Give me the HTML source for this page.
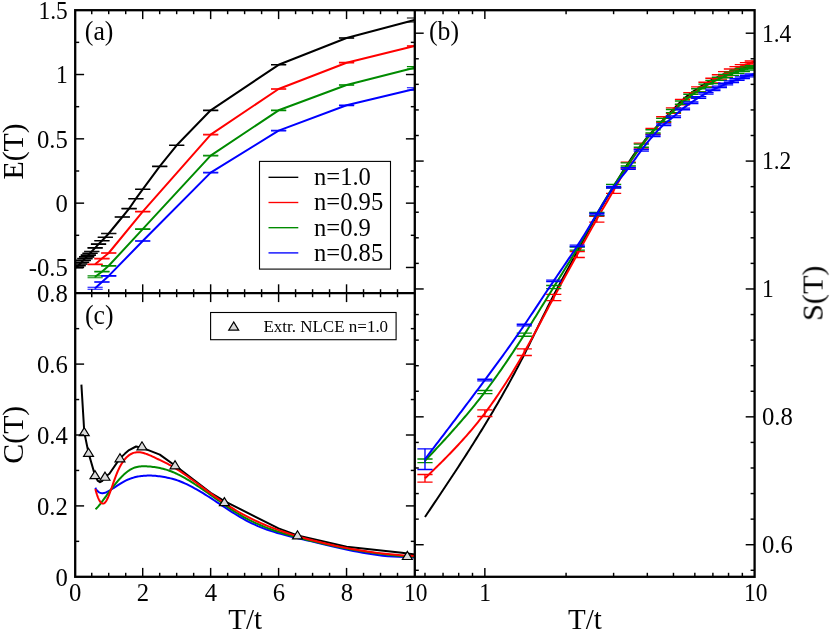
<!DOCTYPE html>
<html><head><meta charset="utf-8"><title>Figure</title>
<style>
html,body{margin:0;padding:0;background:#fff;}
svg{display:block;}
text{font-family:"Liberation Serif","DejaVu Serif",serif;fill:#000;}
</style></head><body>
<svg width="830" height="631" viewBox="0 0 830 631">
<rect width="830" height="631" fill="#fff"/>
<clipPath id="ca"><rect x="75.2" y="10.2" width="339.6" height="283.0"/></clipPath>
<clipPath id="cc"><rect x="75.2" y="293.2" width="339.6" height="283.59999999999997"/></clipPath>
<clipPath id="cb"><rect x="414.8" y="10.2" width="339.8" height="566.5999999999999"/></clipPath>
<g clip-path="url(#ca)">
<polyline points="75.60,267.60 76.45,267.20 78.15,265.80 79.85,264.00 81.55,262.20 83.24,260.40 84.94,258.60 86.64,256.90 88.34,255.10 90.04,253.30 91.74,251.50 95.14,247.90 98.53,244.10 101.93,240.80 105.33,237.20 108.72,233.50 122.31,217.00 129.11,208.60 135.91,198.70 142.70,189.30 159.69,166.40 176.68,145.30 210.65,110.30 278.60,64.80 346.55,38.00 414.50,20.00" fill="none" stroke="#000000" stroke-width="2.0" stroke-linejoin="round" />
<line x1="75.60" y1="267.35" x2="75.60" y2="267.85" stroke="#000000" stroke-width="1.1"/>
<line x1="68.00" y1="267.35" x2="83.20" y2="267.35" stroke="#000000" stroke-width="1.1"/>
<line x1="68.00" y1="267.85" x2="83.20" y2="267.85" stroke="#000000" stroke-width="1.1"/>
<line x1="76.45" y1="266.95" x2="76.45" y2="267.45" stroke="#000000" stroke-width="1.1"/>
<line x1="68.85" y1="266.95" x2="84.05" y2="266.95" stroke="#000000" stroke-width="1.1"/>
<line x1="68.85" y1="267.45" x2="84.05" y2="267.45" stroke="#000000" stroke-width="1.1"/>
<line x1="78.15" y1="265.55" x2="78.15" y2="266.05" stroke="#000000" stroke-width="1.1"/>
<line x1="70.55" y1="265.55" x2="85.75" y2="265.55" stroke="#000000" stroke-width="1.1"/>
<line x1="70.55" y1="266.05" x2="85.75" y2="266.05" stroke="#000000" stroke-width="1.1"/>
<line x1="79.85" y1="263.75" x2="79.85" y2="264.25" stroke="#000000" stroke-width="1.1"/>
<line x1="72.25" y1="263.75" x2="87.45" y2="263.75" stroke="#000000" stroke-width="1.1"/>
<line x1="72.25" y1="264.25" x2="87.45" y2="264.25" stroke="#000000" stroke-width="1.1"/>
<line x1="81.55" y1="261.95" x2="81.55" y2="262.45" stroke="#000000" stroke-width="1.1"/>
<line x1="73.95" y1="261.95" x2="89.14" y2="261.95" stroke="#000000" stroke-width="1.1"/>
<line x1="73.95" y1="262.45" x2="89.14" y2="262.45" stroke="#000000" stroke-width="1.1"/>
<line x1="83.24" y1="260.15" x2="83.24" y2="260.65" stroke="#000000" stroke-width="1.1"/>
<line x1="75.64" y1="260.15" x2="90.84" y2="260.15" stroke="#000000" stroke-width="1.1"/>
<line x1="75.64" y1="260.65" x2="90.84" y2="260.65" stroke="#000000" stroke-width="1.1"/>
<line x1="84.94" y1="258.35" x2="84.94" y2="258.85" stroke="#000000" stroke-width="1.1"/>
<line x1="77.34" y1="258.35" x2="92.54" y2="258.35" stroke="#000000" stroke-width="1.1"/>
<line x1="77.34" y1="258.85" x2="92.54" y2="258.85" stroke="#000000" stroke-width="1.1"/>
<line x1="86.64" y1="256.65" x2="86.64" y2="257.15" stroke="#000000" stroke-width="1.1"/>
<line x1="79.04" y1="256.65" x2="94.24" y2="256.65" stroke="#000000" stroke-width="1.1"/>
<line x1="79.04" y1="257.15" x2="94.24" y2="257.15" stroke="#000000" stroke-width="1.1"/>
<line x1="88.34" y1="254.85" x2="88.34" y2="255.35" stroke="#000000" stroke-width="1.1"/>
<line x1="80.74" y1="254.85" x2="95.94" y2="254.85" stroke="#000000" stroke-width="1.1"/>
<line x1="80.74" y1="255.35" x2="95.94" y2="255.35" stroke="#000000" stroke-width="1.1"/>
<line x1="90.04" y1="253.05" x2="90.04" y2="253.55" stroke="#000000" stroke-width="1.1"/>
<line x1="82.44" y1="253.05" x2="97.64" y2="253.05" stroke="#000000" stroke-width="1.1"/>
<line x1="82.44" y1="253.55" x2="97.64" y2="253.55" stroke="#000000" stroke-width="1.1"/>
<line x1="91.74" y1="251.25" x2="91.74" y2="251.75" stroke="#000000" stroke-width="1.1"/>
<line x1="84.14" y1="251.25" x2="99.34" y2="251.25" stroke="#000000" stroke-width="1.1"/>
<line x1="84.14" y1="251.75" x2="99.34" y2="251.75" stroke="#000000" stroke-width="1.1"/>
<line x1="95.14" y1="247.65" x2="95.14" y2="248.15" stroke="#000000" stroke-width="1.1"/>
<line x1="87.54" y1="247.65" x2="102.73" y2="247.65" stroke="#000000" stroke-width="1.1"/>
<line x1="87.54" y1="248.15" x2="102.73" y2="248.15" stroke="#000000" stroke-width="1.1"/>
<line x1="98.53" y1="243.85" x2="98.53" y2="244.35" stroke="#000000" stroke-width="1.1"/>
<line x1="90.93" y1="243.85" x2="106.13" y2="243.85" stroke="#000000" stroke-width="1.1"/>
<line x1="90.93" y1="244.35" x2="106.13" y2="244.35" stroke="#000000" stroke-width="1.1"/>
<line x1="101.93" y1="240.55" x2="101.93" y2="241.05" stroke="#000000" stroke-width="1.1"/>
<line x1="94.33" y1="240.55" x2="109.53" y2="240.55" stroke="#000000" stroke-width="1.1"/>
<line x1="94.33" y1="241.05" x2="109.53" y2="241.05" stroke="#000000" stroke-width="1.1"/>
<line x1="105.33" y1="236.95" x2="105.33" y2="237.45" stroke="#000000" stroke-width="1.1"/>
<line x1="97.73" y1="236.95" x2="112.93" y2="236.95" stroke="#000000" stroke-width="1.1"/>
<line x1="97.73" y1="237.45" x2="112.93" y2="237.45" stroke="#000000" stroke-width="1.1"/>
<line x1="108.72" y1="233.25" x2="108.72" y2="233.75" stroke="#000000" stroke-width="1.1"/>
<line x1="101.12" y1="233.25" x2="116.32" y2="233.25" stroke="#000000" stroke-width="1.1"/>
<line x1="101.12" y1="233.75" x2="116.32" y2="233.75" stroke="#000000" stroke-width="1.1"/>
<line x1="122.31" y1="216.75" x2="122.31" y2="217.25" stroke="#000000" stroke-width="1.1"/>
<line x1="114.72" y1="216.75" x2="129.91" y2="216.75" stroke="#000000" stroke-width="1.1"/>
<line x1="114.72" y1="217.25" x2="129.91" y2="217.25" stroke="#000000" stroke-width="1.1"/>
<line x1="129.11" y1="208.35" x2="129.11" y2="208.85" stroke="#000000" stroke-width="1.1"/>
<line x1="121.51" y1="208.35" x2="136.71" y2="208.35" stroke="#000000" stroke-width="1.1"/>
<line x1="121.51" y1="208.85" x2="136.71" y2="208.85" stroke="#000000" stroke-width="1.1"/>
<line x1="135.91" y1="198.45" x2="135.91" y2="198.95" stroke="#000000" stroke-width="1.1"/>
<line x1="128.31" y1="198.45" x2="143.50" y2="198.45" stroke="#000000" stroke-width="1.1"/>
<line x1="128.31" y1="198.95" x2="143.50" y2="198.95" stroke="#000000" stroke-width="1.1"/>
<line x1="142.70" y1="189.05" x2="142.70" y2="189.55" stroke="#000000" stroke-width="1.1"/>
<line x1="135.10" y1="189.05" x2="150.30" y2="189.05" stroke="#000000" stroke-width="1.1"/>
<line x1="135.10" y1="189.55" x2="150.30" y2="189.55" stroke="#000000" stroke-width="1.1"/>
<line x1="159.69" y1="166.15" x2="159.69" y2="166.65" stroke="#000000" stroke-width="1.1"/>
<line x1="152.09" y1="166.15" x2="167.29" y2="166.15" stroke="#000000" stroke-width="1.1"/>
<line x1="152.09" y1="166.65" x2="167.29" y2="166.65" stroke="#000000" stroke-width="1.1"/>
<line x1="176.68" y1="145.05" x2="176.68" y2="145.55" stroke="#000000" stroke-width="1.1"/>
<line x1="169.08" y1="145.05" x2="184.28" y2="145.05" stroke="#000000" stroke-width="1.1"/>
<line x1="169.08" y1="145.55" x2="184.28" y2="145.55" stroke="#000000" stroke-width="1.1"/>
<line x1="210.65" y1="110.00" x2="210.65" y2="110.60" stroke="#000000" stroke-width="1.1"/>
<line x1="203.05" y1="110.00" x2="218.25" y2="110.00" stroke="#000000" stroke-width="1.1"/>
<line x1="203.05" y1="110.60" x2="218.25" y2="110.60" stroke="#000000" stroke-width="1.1"/>
<line x1="278.60" y1="64.55" x2="278.60" y2="65.05" stroke="#000000" stroke-width="1.1"/>
<line x1="271.00" y1="64.55" x2="286.20" y2="64.55" stroke="#000000" stroke-width="1.1"/>
<line x1="271.00" y1="65.05" x2="286.20" y2="65.05" stroke="#000000" stroke-width="1.1"/>
<line x1="346.55" y1="37.75" x2="346.55" y2="38.25" stroke="#000000" stroke-width="1.1"/>
<line x1="338.95" y1="37.75" x2="354.15" y2="37.75" stroke="#000000" stroke-width="1.1"/>
<line x1="338.95" y1="38.25" x2="354.15" y2="38.25" stroke="#000000" stroke-width="1.1"/>
<line x1="414.50" y1="18.00" x2="414.50" y2="22.00" stroke="#000000" stroke-width="1.1"/>
<line x1="406.90" y1="18.00" x2="422.10" y2="18.00" stroke="#000000" stroke-width="1.1"/>
<line x1="406.90" y1="22.00" x2="422.10" y2="22.00" stroke="#000000" stroke-width="1.1"/>
<polyline points="95.14,264.30 101.93,258.60 108.72,253.00 142.70,211.60 210.65,134.60 278.60,89.00 346.55,62.70 414.50,46.00" fill="none" stroke="#ff0000" stroke-width="2.0" stroke-linejoin="round" />
<line x1="95.14" y1="264.00" x2="95.14" y2="264.60" stroke="#ff0000" stroke-width="1.1"/>
<line x1="87.54" y1="264.00" x2="102.73" y2="264.00" stroke="#ff0000" stroke-width="1.1"/>
<line x1="87.54" y1="264.60" x2="102.73" y2="264.60" stroke="#ff0000" stroke-width="1.1"/>
<line x1="101.93" y1="258.30" x2="101.93" y2="258.90" stroke="#ff0000" stroke-width="1.1"/>
<line x1="94.33" y1="258.30" x2="109.53" y2="258.30" stroke="#ff0000" stroke-width="1.1"/>
<line x1="94.33" y1="258.90" x2="109.53" y2="258.90" stroke="#ff0000" stroke-width="1.1"/>
<line x1="108.72" y1="252.70" x2="108.72" y2="253.30" stroke="#ff0000" stroke-width="1.1"/>
<line x1="101.12" y1="252.70" x2="116.32" y2="252.70" stroke="#ff0000" stroke-width="1.1"/>
<line x1="101.12" y1="253.30" x2="116.32" y2="253.30" stroke="#ff0000" stroke-width="1.1"/>
<line x1="142.70" y1="211.35" x2="142.70" y2="211.85" stroke="#ff0000" stroke-width="1.1"/>
<line x1="135.10" y1="211.35" x2="150.30" y2="211.35" stroke="#ff0000" stroke-width="1.1"/>
<line x1="135.10" y1="211.85" x2="150.30" y2="211.85" stroke="#ff0000" stroke-width="1.1"/>
<line x1="210.65" y1="134.30" x2="210.65" y2="134.90" stroke="#ff0000" stroke-width="1.1"/>
<line x1="203.05" y1="134.30" x2="218.25" y2="134.30" stroke="#ff0000" stroke-width="1.1"/>
<line x1="203.05" y1="134.90" x2="218.25" y2="134.90" stroke="#ff0000" stroke-width="1.1"/>
<line x1="278.60" y1="88.70" x2="278.60" y2="89.30" stroke="#ff0000" stroke-width="1.1"/>
<line x1="271.00" y1="88.70" x2="286.20" y2="88.70" stroke="#ff0000" stroke-width="1.1"/>
<line x1="271.00" y1="89.30" x2="286.20" y2="89.30" stroke="#ff0000" stroke-width="1.1"/>
<line x1="346.55" y1="62.40" x2="346.55" y2="63.00" stroke="#ff0000" stroke-width="1.1"/>
<line x1="338.95" y1="62.40" x2="354.15" y2="62.40" stroke="#ff0000" stroke-width="1.1"/>
<line x1="338.95" y1="63.00" x2="354.15" y2="63.00" stroke="#ff0000" stroke-width="1.1"/>
<line x1="414.50" y1="45.70" x2="414.50" y2="46.30" stroke="#ff0000" stroke-width="1.1"/>
<line x1="406.90" y1="45.70" x2="422.10" y2="45.70" stroke="#ff0000" stroke-width="1.1"/>
<line x1="406.90" y1="46.30" x2="422.10" y2="46.30" stroke="#ff0000" stroke-width="1.1"/>
<polyline points="95.14,276.80 101.93,271.70 108.72,265.80 142.70,229.10 210.65,155.60 278.60,110.30 346.55,85.00 414.50,67.80" fill="none" stroke="#008b00" stroke-width="2.0" stroke-linejoin="round" />
<line x1="95.14" y1="275.90" x2="95.14" y2="277.70" stroke="#008b00" stroke-width="1.1"/>
<line x1="87.54" y1="275.90" x2="102.73" y2="275.90" stroke="#008b00" stroke-width="1.1"/>
<line x1="87.54" y1="277.70" x2="102.73" y2="277.70" stroke="#008b00" stroke-width="1.1"/>
<line x1="101.93" y1="271.40" x2="101.93" y2="272.00" stroke="#008b00" stroke-width="1.1"/>
<line x1="94.33" y1="271.40" x2="109.53" y2="271.40" stroke="#008b00" stroke-width="1.1"/>
<line x1="94.33" y1="272.00" x2="109.53" y2="272.00" stroke="#008b00" stroke-width="1.1"/>
<line x1="108.72" y1="265.50" x2="108.72" y2="266.10" stroke="#008b00" stroke-width="1.1"/>
<line x1="101.12" y1="265.50" x2="116.32" y2="265.50" stroke="#008b00" stroke-width="1.1"/>
<line x1="101.12" y1="266.10" x2="116.32" y2="266.10" stroke="#008b00" stroke-width="1.1"/>
<line x1="142.70" y1="228.85" x2="142.70" y2="229.35" stroke="#008b00" stroke-width="1.1"/>
<line x1="135.10" y1="228.85" x2="150.30" y2="228.85" stroke="#008b00" stroke-width="1.1"/>
<line x1="135.10" y1="229.35" x2="150.30" y2="229.35" stroke="#008b00" stroke-width="1.1"/>
<line x1="210.65" y1="155.30" x2="210.65" y2="155.90" stroke="#008b00" stroke-width="1.1"/>
<line x1="203.05" y1="155.30" x2="218.25" y2="155.30" stroke="#008b00" stroke-width="1.1"/>
<line x1="203.05" y1="155.90" x2="218.25" y2="155.90" stroke="#008b00" stroke-width="1.1"/>
<line x1="278.60" y1="110.00" x2="278.60" y2="110.60" stroke="#008b00" stroke-width="1.1"/>
<line x1="271.00" y1="110.00" x2="286.20" y2="110.00" stroke="#008b00" stroke-width="1.1"/>
<line x1="271.00" y1="110.60" x2="286.20" y2="110.60" stroke="#008b00" stroke-width="1.1"/>
<line x1="346.55" y1="84.70" x2="346.55" y2="85.30" stroke="#008b00" stroke-width="1.1"/>
<line x1="338.95" y1="84.70" x2="354.15" y2="84.70" stroke="#008b00" stroke-width="1.1"/>
<line x1="338.95" y1="85.30" x2="354.15" y2="85.30" stroke="#008b00" stroke-width="1.1"/>
<line x1="414.50" y1="66.60" x2="414.50" y2="69.00" stroke="#008b00" stroke-width="1.1"/>
<line x1="406.90" y1="66.60" x2="422.10" y2="66.60" stroke="#008b00" stroke-width="1.1"/>
<line x1="406.90" y1="69.00" x2="422.10" y2="69.00" stroke="#008b00" stroke-width="1.1"/>
<polyline points="95.14,288.30 101.93,282.00 108.72,275.90 142.70,241.00 210.65,172.60 278.60,130.60 346.55,105.30 414.50,89.00" fill="none" stroke="#0000ff" stroke-width="2.0" stroke-linejoin="round" />
<line x1="95.14" y1="287.30" x2="95.14" y2="289.30" stroke="#0000ff" stroke-width="1.1"/>
<line x1="87.54" y1="287.30" x2="102.73" y2="287.30" stroke="#0000ff" stroke-width="1.1"/>
<line x1="87.54" y1="289.30" x2="102.73" y2="289.30" stroke="#0000ff" stroke-width="1.1"/>
<line x1="101.93" y1="281.70" x2="101.93" y2="282.30" stroke="#0000ff" stroke-width="1.1"/>
<line x1="94.33" y1="281.70" x2="109.53" y2="281.70" stroke="#0000ff" stroke-width="1.1"/>
<line x1="94.33" y1="282.30" x2="109.53" y2="282.30" stroke="#0000ff" stroke-width="1.1"/>
<line x1="108.72" y1="275.60" x2="108.72" y2="276.20" stroke="#0000ff" stroke-width="1.1"/>
<line x1="101.12" y1="275.60" x2="116.32" y2="275.60" stroke="#0000ff" stroke-width="1.1"/>
<line x1="101.12" y1="276.20" x2="116.32" y2="276.20" stroke="#0000ff" stroke-width="1.1"/>
<line x1="142.70" y1="240.75" x2="142.70" y2="241.25" stroke="#0000ff" stroke-width="1.1"/>
<line x1="135.10" y1="240.75" x2="150.30" y2="240.75" stroke="#0000ff" stroke-width="1.1"/>
<line x1="135.10" y1="241.25" x2="150.30" y2="241.25" stroke="#0000ff" stroke-width="1.1"/>
<line x1="210.65" y1="172.30" x2="210.65" y2="172.90" stroke="#0000ff" stroke-width="1.1"/>
<line x1="203.05" y1="172.30" x2="218.25" y2="172.30" stroke="#0000ff" stroke-width="1.1"/>
<line x1="203.05" y1="172.90" x2="218.25" y2="172.90" stroke="#0000ff" stroke-width="1.1"/>
<line x1="278.60" y1="130.30" x2="278.60" y2="130.90" stroke="#0000ff" stroke-width="1.1"/>
<line x1="271.00" y1="130.30" x2="286.20" y2="130.30" stroke="#0000ff" stroke-width="1.1"/>
<line x1="271.00" y1="130.90" x2="286.20" y2="130.90" stroke="#0000ff" stroke-width="1.1"/>
<line x1="346.55" y1="105.00" x2="346.55" y2="105.60" stroke="#0000ff" stroke-width="1.1"/>
<line x1="338.95" y1="105.00" x2="354.15" y2="105.00" stroke="#0000ff" stroke-width="1.1"/>
<line x1="338.95" y1="105.60" x2="354.15" y2="105.60" stroke="#0000ff" stroke-width="1.1"/>
<line x1="414.50" y1="87.80" x2="414.50" y2="90.20" stroke="#0000ff" stroke-width="1.1"/>
<line x1="406.90" y1="87.80" x2="422.10" y2="87.80" stroke="#0000ff" stroke-width="1.1"/>
<line x1="406.90" y1="90.20" x2="422.10" y2="90.20" stroke="#0000ff" stroke-width="1.1"/>
</g>
<g clip-path="url(#cc)">
<polyline points="81.40,384.60 83.55,420.00 84.26,432.30 88.54,453.00 94.99,475.40 97.60,480.60 99.98,482.20 102.40,480.80 105.00,477.00 109.40,473.80 119.95,458.40 125.00,453.60 129.10,450.10 136.06,446.50 142.70,448.00 147.00,449.60 159.80,454.60 176.70,466.80 210.65,492.80 224.40,501.10 278.50,528.40 297.50,535.40 346.60,546.75 401.90,552.80 415.00,554.40" fill="none" stroke="#000000" stroke-width="2.0" stroke-linejoin="round" />
<polyline points="95.30,487.73 95.72,488.49 96.15,489.19 96.58,489.83 97.02,490.40 97.47,490.92 97.92,491.37 98.38,491.78 98.85,492.12 99.33,492.42 99.82,492.66 100.31,492.86 100.81,493.00 101.33,493.11 101.84,493.16 102.37,493.18 102.91,493.15 103.45,493.08 104.01,492.98 104.57,492.84 105.14,492.67 105.73,492.46 106.32,492.22 106.92,491.96 107.53,491.66 108.15,491.34 108.79,491.00 109.43,490.63 110.08,490.24 110.75,489.84 111.42,489.41 112.11,488.97 112.80,488.51 113.51,488.05 114.23,487.57 114.97,487.08 115.71,486.58 116.47,486.08 117.24,485.58 118.02,485.07 118.82,484.56 119.63,484.05 120.45,483.54 121.28,483.04 122.13,482.54 123.00,482.05 123.88,481.57 124.77,481.10 125.68,480.64 126.60,480.20 127.54,479.77 128.49,479.36 129.46,478.97 130.44,478.60 131.45,478.25 132.46,477.92 133.50,477.61 134.55,477.32 135.62,477.05 136.71,476.80 137.81,476.58 138.94,476.37 140.08,476.19 141.24,476.03 142.42,475.90 143.62,475.78 144.84,475.69 146.08,475.63 147.34,475.58 148.62,475.57 149.92,475.57 151.25,475.60 152.59,475.66 153.96,475.74 155.35,475.84 156.77,475.98 158.20,476.14 159.67,476.32 161.15,476.53 162.66,476.77 164.20,477.03 165.76,477.33 167.34,477.65 168.96,478.00 170.60,478.39 172.26,478.82 173.96,479.29 175.68,479.81 177.43,480.39 179.21,481.02 181.02,481.72 182.86,482.48 184.73,483.30 186.63,484.17 188.56,485.11 190.53,486.11 192.52,487.16 194.55,488.26 196.62,489.43 198.72,490.64 200.85,491.90 203.02,493.22 205.22,494.58 207.46,495.99 209.74,497.44 212.05,498.94 214.41,500.49 216.80,502.07 219.23,503.69 221.70,505.34 224.22,507.01 226.77,508.69 229.37,510.38 232.01,512.07 234.69,513.75 237.42,515.42 240.20,517.07 243.02,518.68 245.88,520.26 248.80,521.80 251.76,523.28 254.77,524.71 257.83,526.08 260.94,527.37 264.11,528.59 267.32,529.76 270.59,530.86 273.92,531.92 277.29,532.94 280.73,533.91 284.22,534.86 287.77,535.78 291.38,536.68 295.05,537.57 298.77,538.45 302.56,539.33 306.42,540.21 310.33,541.11 314.32,542.03 318.36,542.97 322.48,543.93 326.66,544.93 330.92,545.94 335.24,546.97 339.63,547.99 344.10,549.00 348.64,549.99 353.26,550.96 357.95,551.88 362.72,552.77 367.57,553.59 372.50,554.35 377.51,555.03 382.61,555.64 387.79,556.15 393.05,556.55 398.40,556.85 403.85,557.03 409.38,557.19 415.00,557.61" fill="none" stroke="#0000ff" stroke-width="2.0" stroke-linejoin="round" />
<polyline points="95.50,509.23 95.92,508.86 96.35,508.46 96.78,508.03 97.23,507.57 97.68,507.09 98.13,506.58 98.60,506.04 99.07,505.48 99.55,504.90 100.04,504.29 100.54,503.66 101.04,503.01 101.55,502.34 102.07,501.65 102.60,500.94 103.14,500.21 103.69,499.47 104.25,498.71 104.81,497.93 105.39,497.14 105.97,496.33 106.57,495.51 107.17,494.68 107.78,493.84 108.41,492.99 109.04,492.13 109.69,491.26 110.34,490.38 111.01,489.49 111.69,488.60 112.37,487.70 113.07,486.80 113.79,485.89 114.51,484.98 115.24,484.07 115.99,483.15 116.75,482.24 117.52,481.32 118.31,480.41 119.11,479.50 119.92,478.59 120.74,477.70 121.58,476.82 122.43,475.95 123.30,475.11 124.18,474.28 125.07,473.48 125.98,472.71 126.91,471.97 127.85,471.26 128.80,470.60 129.77,469.97 130.76,469.38 131.77,468.84 132.79,468.35 133.82,467.92 134.88,467.54 135.95,467.21 137.04,466.94 138.15,466.72 139.27,466.54 140.42,466.41 141.58,466.32 142.76,466.27 143.96,466.25 145.18,466.27 146.43,466.32 147.69,466.40 148.97,466.50 150.28,466.62 151.60,466.77 152.95,466.93 154.32,467.11 155.71,467.31 157.13,467.54 158.57,467.80 160.03,468.10 161.52,468.42 163.03,468.79 164.57,469.20 166.13,469.65 167.72,470.15 169.33,470.70 170.97,471.31 172.64,471.97 174.33,472.69 176.06,473.47 177.81,474.31 179.59,475.20 181.40,476.15 183.24,477.16 185.11,478.21 187.01,479.32 188.95,480.48 190.91,481.69 192.91,482.94 194.94,484.24 197.00,485.59 199.10,486.98 201.23,488.42 203.40,489.90 205.60,491.42 207.84,492.97 210.12,494.57 212.43,496.20 214.79,497.87 217.18,499.58 219.61,501.30 222.08,503.05 224.59,504.81 227.15,506.57 229.74,508.33 232.38,510.08 235.06,511.81 237.79,513.51 240.56,515.17 243.38,516.80 246.24,518.38 249.15,519.91 252.11,521.38 255.12,522.81 258.18,524.19 261.28,525.53 264.44,526.81 267.66,528.06 270.92,529.27 274.24,530.44 277.61,531.57 281.04,532.67 284.53,533.75 288.07,534.79 291.67,535.82 295.34,536.82 299.06,537.81 302.84,538.78 306.69,539.73 310.60,540.68 314.57,541.62 318.61,542.55 322.72,543.49 326.89,544.42 331.13,545.34 335.45,546.25 339.83,547.16 344.29,548.04 348.82,548.90 353.43,549.75 358.11,550.56 362.87,551.35 367.70,552.10 372.62,552.82 377.62,553.50 382.70,554.13 387.87,554.72 393.12,555.27 398.45,555.75 403.88,556.19 409.39,556.56 415.00,556.87" fill="none" stroke="#008b00" stroke-width="2.0" stroke-linejoin="round" />
<polyline points="95.30,488.89 95.72,490.45 96.15,491.96 96.58,493.40 97.02,494.77 97.47,496.06 97.92,497.27 98.38,498.39 98.85,499.43 99.33,500.36 99.82,501.18 100.31,501.90 100.81,502.50 101.33,502.98 101.84,503.33 102.37,503.54 102.91,503.62 103.45,503.55 104.01,503.33 104.57,502.96 105.14,502.42 105.73,501.71 106.32,500.83 106.92,499.77 107.53,498.54 108.15,497.16 108.79,495.63 109.43,493.98 110.08,492.22 110.75,490.37 111.42,488.46 112.11,486.48 112.80,484.47 113.51,482.43 114.23,480.39 114.97,478.36 115.71,476.36 116.47,474.40 117.24,472.50 118.02,470.69 118.82,468.96 119.63,467.31 120.45,465.76 121.28,464.29 122.13,462.91 123.00,461.61 123.88,460.40 124.77,459.28 125.68,458.23 126.60,457.28 127.54,456.41 128.49,455.62 129.46,454.91 130.44,454.29 131.45,453.75 132.46,453.29 133.50,452.91 134.55,452.62 135.62,452.40 136.71,452.26 137.81,452.21 138.94,452.23 140.08,452.33 141.24,452.51 142.42,452.75 143.62,453.05 144.84,453.42 146.08,453.84 147.34,454.30 148.62,454.82 149.92,455.37 151.25,455.95 152.59,456.57 153.96,457.21 155.35,457.87 156.77,458.55 158.20,459.24 159.67,459.94 161.15,460.65 162.66,461.37 164.20,462.12 165.76,462.89 167.34,463.70 168.96,464.55 170.60,465.45 172.26,466.40 173.96,467.40 175.68,468.46 177.43,469.56 179.21,470.72 181.02,471.92 182.86,473.17 184.73,474.46 186.63,475.79 188.56,477.17 190.53,478.58 192.52,480.03 194.55,481.52 196.62,483.04 198.72,484.59 200.85,486.17 203.02,487.78 205.22,489.42 207.46,491.07 209.74,492.75 212.05,494.43 214.41,496.13 216.80,497.83 219.23,499.53 221.70,501.24 224.22,502.94 226.77,504.63 229.37,506.31 232.01,507.97 234.69,509.62 237.42,511.25 240.20,512.84 243.02,514.41 245.88,515.95 248.80,517.45 251.76,518.92 254.77,520.36 257.83,521.77 260.94,523.14 264.11,524.49 267.32,525.81 270.59,527.10 273.92,528.37 277.29,529.61 280.73,530.82 284.22,532.01 287.77,533.18 291.38,534.33 295.05,535.45 298.77,536.56 302.56,537.64 306.42,538.71 310.33,539.76 314.32,540.79 318.36,541.80 322.48,542.80 326.66,543.79 330.92,544.75 335.24,545.70 339.63,546.62 344.10,547.51 348.64,548.38 353.26,549.22 357.95,550.03 362.72,550.80 367.57,551.53 372.50,552.22 377.51,552.88 382.61,553.48 387.79,554.05 393.05,554.56 398.40,555.02 403.85,555.43 409.38,555.78 415.00,556.08" fill="none" stroke="#ff0000" stroke-width="2.0" stroke-linejoin="round" />
<polygon points="84.26,427.60 79.31,435.70 89.21,435.70" fill="#d9d9d9" stroke="#000" stroke-width="1.2"/>
<polygon points="88.54,448.30 83.59,456.40 93.49,456.40" fill="#d9d9d9" stroke="#000" stroke-width="1.2"/>
<polygon points="94.99,470.60 90.04,478.70 99.94,478.70" fill="#d9d9d9" stroke="#000" stroke-width="1.2"/>
<polygon points="105.00,472.15 100.05,480.25 109.95,480.25" fill="#d9d9d9" stroke="#000" stroke-width="1.2"/>
<polygon points="119.95,453.70 115.00,461.80 124.90,461.80" fill="#d9d9d9" stroke="#000" stroke-width="1.2"/>
<polygon points="142.00,441.80 137.05,449.90 146.95,449.90" fill="#d9d9d9" stroke="#000" stroke-width="1.2"/>
<polygon points="175.00,460.70 170.05,468.80 179.95,468.80" fill="#d9d9d9" stroke="#000" stroke-width="1.2"/>
<polygon points="224.40,497.60 219.45,505.70 229.35,505.70" fill="#d9d9d9" stroke="#000" stroke-width="1.2"/>
<polygon points="297.50,530.80 292.55,538.90 302.45,538.90" fill="#d9d9d9" stroke="#000" stroke-width="1.2"/>
<polygon points="407.35,551.40 402.40,559.50 412.30,559.50" fill="#d9d9d9" stroke="#000" stroke-width="1.2"/>
</g>
<g clip-path="url(#cb)">
<polyline points="424.98,516.96 426.64,514.50 428.30,512.04 429.95,509.57 431.61,507.11 433.27,504.64 434.93,502.17 436.58,499.70 438.24,497.23 439.90,494.75 441.55,492.27 443.21,489.79 444.87,487.30 446.52,484.81 448.18,482.31 449.84,479.80 451.49,477.29 453.15,474.78 454.81,472.25 456.46,469.72 458.12,467.18 459.78,464.64 461.44,462.08 463.09,459.52 464.75,456.95 466.41,454.36 468.06,451.77 469.72,449.17 471.38,446.56 473.03,443.93 474.69,441.30 476.35,438.65 478.00,435.99 479.66,433.31 481.32,430.63 482.97,427.93 484.63,425.21 486.29,422.48 487.94,419.74 489.60,416.98 491.26,414.21 492.92,411.41 494.57,408.60 496.23,405.77 497.89,402.93 499.54,400.06 501.20,397.17 502.86,394.26 504.51,391.33 506.17,388.37 507.83,385.39 509.48,382.39 511.14,379.36 512.80,376.31 514.45,373.23 516.11,370.13 517.77,367.00 519.43,363.84 521.08,360.65 522.74,357.43 524.40,354.18 526.05,350.90 527.71,347.59 529.37,344.26 531.02,340.91 532.68,337.55 534.34,334.18 535.99,330.80 537.65,327.41 539.31,324.03 540.96,320.65 542.62,317.28 544.28,313.92 545.94,310.58 547.59,307.26 549.25,303.96 550.91,300.69 552.56,297.46 554.22,294.26 555.88,291.09 557.53,287.96 559.19,284.86 560.85,281.79 562.50,278.73 564.16,275.69 565.82,272.66 567.47,269.64 569.13,266.63 570.79,263.61 572.44,260.59 574.10,257.56 575.76,254.51 577.42,251.45 579.07,248.37 580.73,245.27 582.39,242.16 584.04,239.04 585.70,235.93 587.36,232.82 589.01,229.71 590.67,226.62 592.33,223.55 593.98,220.51 595.64,217.49 597.30,214.51 598.95,211.56 600.61,208.65 602.27,205.76 603.93,202.91 605.58,200.08 607.24,197.26 608.90,194.47 610.55,191.69 612.21,188.92 613.87,186.16 615.52,183.40 617.18,180.66 618.84,177.93 620.49,175.22 622.15,172.54 623.81,169.90 625.46,167.28 627.12,164.72 628.78,162.20 630.44,159.73 632.09,157.31 633.75,154.94 635.41,152.63 637.06,150.36 638.72,148.14 640.38,145.96 642.03,143.83 643.69,141.75 645.35,139.71 647.00,137.70 648.66,135.74 650.32,133.81 651.97,131.91 653.63,130.04 655.29,128.20 656.95,126.38 658.60,124.59 660.26,122.82 661.92,121.07 663.57,119.34 665.23,117.63 666.89,115.92 668.54,114.23 670.20,112.53 671.86,110.83 673.51,109.11 675.17,107.38 676.83,105.65 678.48,103.94 680.14,102.28 681.80,100.69 683.45,99.18 685.11,97.75 686.77,96.40 688.43,95.10 690.08,93.85 691.74,92.62 693.40,91.42 695.05,90.24 696.71,89.08 698.37,87.96 700.02,86.88 701.68,85.83 703.34,84.80 704.99,83.81 706.65,82.85 708.31,81.91 709.96,80.99 711.62,80.10 713.28,79.24 714.94,78.40 716.59,77.59 718.25,76.80 719.91,76.02 721.56,75.26 723.22,74.53 724.88,73.83 726.53,73.16 728.19,72.53 729.85,71.93 731.50,71.38 733.16,70.85 734.82,70.36 736.47,69.90 738.13,69.44 739.79,69.00 741.45,68.58 743.10,68.17 744.76,67.78 746.42,67.41 748.07,67.05 749.73,66.71 751.39,66.38 753.04,66.05 754.70,65.73" fill="none" stroke="#000000" stroke-width="2.0" stroke-linejoin="round" />
<polyline points="424.98,478.32 426.64,476.71 428.30,475.10 429.95,473.49 431.61,471.88 433.27,470.26 434.93,468.64 436.58,467.01 438.24,465.38 439.90,463.74 441.55,462.09 443.21,460.44 444.87,458.77 446.52,457.09 448.18,455.40 449.84,453.70 451.49,451.99 453.15,450.26 454.81,448.51 456.46,446.75 458.12,444.98 459.78,443.18 461.44,441.37 463.09,439.54 464.75,437.68 466.41,435.81 468.06,433.91 469.72,431.99 471.38,430.05 473.03,428.08 474.69,426.08 476.35,424.06 478.00,422.01 479.66,419.93 481.32,417.82 482.97,415.69 484.63,413.52 486.29,411.32 487.94,409.08 489.60,406.82 491.26,404.52 492.92,402.19 494.57,399.83 496.23,397.44 497.89,395.02 499.54,392.56 501.20,390.07 502.86,387.55 504.51,385.00 506.17,382.42 507.83,379.81 509.48,377.16 511.14,374.49 512.80,371.78 514.45,369.04 516.11,366.27 517.77,363.47 519.43,360.64 521.08,357.78 522.74,354.89 524.40,351.96 526.05,349.01 527.71,346.03 529.37,343.02 531.02,339.99 532.68,336.94 534.34,333.87 535.99,330.79 537.65,327.69 539.31,324.59 540.96,321.47 542.62,318.35 544.28,315.23 545.94,312.11 547.59,308.99 549.25,305.88 550.91,302.77 552.56,299.67 554.22,296.59 555.88,293.52 557.53,290.46 559.19,287.41 560.85,284.37 562.50,281.34 564.16,278.32 565.82,275.30 567.47,272.28 569.13,269.27 570.79,266.26 572.44,263.25 574.10,260.24 575.76,257.22 577.42,254.20 579.07,251.18 580.73,248.15 582.39,245.12 584.04,242.09 585.70,239.08 587.36,236.07 589.01,233.07 590.67,230.09 592.33,227.12 593.98,224.18 595.64,221.26 597.30,218.36 598.95,215.50 600.61,212.65 602.27,209.82 603.93,207.00 605.58,204.19 607.24,201.37 608.90,198.55 610.55,195.71 612.21,192.85 613.87,189.97 615.52,187.06 617.18,184.14 618.84,181.21 620.49,178.29 622.15,175.40 623.81,172.53 625.46,169.71 627.12,166.95 628.78,164.25 630.44,161.64 632.09,159.09 633.75,156.61 635.41,154.19 637.06,151.84 638.72,149.53 640.38,147.28 642.03,145.07 643.69,142.91 645.35,140.79 647.00,138.70 648.66,136.64 650.32,134.61 651.97,132.61 653.63,130.64 655.29,128.69 656.95,126.77 658.60,124.90 660.26,123.08 661.92,121.33 663.57,119.65 665.23,118.06 666.89,116.53 668.54,115.03 670.20,113.56 671.86,112.08 673.51,110.56 675.17,109.00 676.83,107.41 678.48,105.81 680.14,104.22 681.80,102.68 683.45,101.19 685.11,99.77 686.77,98.40 688.43,97.08 690.08,95.78 691.74,94.51 693.40,93.26 695.05,92.02 696.71,90.82 698.37,89.64 700.02,88.49 701.68,87.38 703.34,86.30 704.99,85.25 706.65,84.23 708.31,83.24 709.96,82.27 711.62,81.32 713.28,80.37 714.94,79.43 716.59,78.49 718.25,77.57 719.91,76.68 721.56,75.81 723.22,74.96 724.88,74.13 726.53,73.31 728.19,72.52 729.85,71.74 731.50,70.97 733.16,70.22 734.82,69.49 736.47,68.77 738.13,68.07 739.79,67.38 741.45,66.70 743.10,66.04 744.76,65.38 746.42,64.75 748.07,64.12 749.73,63.51 751.39,62.90 753.04,62.29 754.70,61.69" fill="none" stroke="#ff0000" stroke-width="2.0" stroke-linejoin="round" />
<line x1="424.98" y1="474.52" x2="424.98" y2="482.12" stroke="#ff0000" stroke-width="1.35"/>
<line x1="417.38" y1="474.52" x2="432.58" y2="474.52" stroke="#ff0000" stroke-width="1.35"/>
<line x1="417.38" y1="482.12" x2="432.58" y2="482.12" stroke="#ff0000" stroke-width="1.35"/>
<line x1="484.85" y1="409.93" x2="484.85" y2="416.53" stroke="#ff0000" stroke-width="1.35"/>
<line x1="477.25" y1="409.93" x2="492.45" y2="409.93" stroke="#ff0000" stroke-width="1.35"/>
<line x1="477.25" y1="416.53" x2="492.45" y2="416.53" stroke="#ff0000" stroke-width="1.35"/>
<line x1="524.28" y1="348.86" x2="524.28" y2="355.46" stroke="#ff0000" stroke-width="1.35"/>
<line x1="516.68" y1="348.86" x2="531.88" y2="348.86" stroke="#ff0000" stroke-width="1.35"/>
<line x1="516.68" y1="355.46" x2="531.88" y2="355.46" stroke="#ff0000" stroke-width="1.35"/>
<line x1="553.74" y1="294.34" x2="553.74" y2="300.64" stroke="#ff0000" stroke-width="1.35"/>
<line x1="546.14" y1="294.34" x2="561.34" y2="294.34" stroke="#ff0000" stroke-width="1.35"/>
<line x1="546.14" y1="300.64" x2="561.34" y2="300.64" stroke="#ff0000" stroke-width="1.35"/>
<line x1="577.25" y1="251.50" x2="577.25" y2="257.50" stroke="#ff0000" stroke-width="1.35"/>
<line x1="569.65" y1="251.50" x2="584.85" y2="251.50" stroke="#ff0000" stroke-width="1.35"/>
<line x1="569.65" y1="257.50" x2="584.85" y2="257.50" stroke="#ff0000" stroke-width="1.35"/>
<line x1="596.83" y1="216.20" x2="596.83" y2="222.15" stroke="#ff0000" stroke-width="1.35"/>
<line x1="589.23" y1="216.20" x2="604.43" y2="216.20" stroke="#ff0000" stroke-width="1.35"/>
<line x1="589.23" y1="222.15" x2="604.43" y2="222.15" stroke="#ff0000" stroke-width="1.35"/>
<line x1="613.60" y1="187.49" x2="613.60" y2="193.38" stroke="#ff0000" stroke-width="1.35"/>
<line x1="606.00" y1="187.49" x2="621.20" y2="187.49" stroke="#ff0000" stroke-width="1.35"/>
<line x1="606.00" y1="193.38" x2="621.20" y2="193.38" stroke="#ff0000" stroke-width="1.35"/>
<line x1="628.27" y1="162.16" x2="628.27" y2="167.99" stroke="#ff0000" stroke-width="1.35"/>
<line x1="620.67" y1="162.16" x2="635.87" y2="162.16" stroke="#ff0000" stroke-width="1.35"/>
<line x1="620.67" y1="167.99" x2="635.87" y2="167.99" stroke="#ff0000" stroke-width="1.35"/>
<line x1="641.30" y1="143.15" x2="641.30" y2="148.93" stroke="#ff0000" stroke-width="1.35"/>
<line x1="633.70" y1="143.15" x2="648.90" y2="143.15" stroke="#ff0000" stroke-width="1.35"/>
<line x1="633.70" y1="148.93" x2="648.90" y2="148.93" stroke="#ff0000" stroke-width="1.35"/>
<line x1="653.03" y1="128.49" x2="653.03" y2="134.21" stroke="#ff0000" stroke-width="1.35"/>
<line x1="645.43" y1="128.49" x2="660.63" y2="128.49" stroke="#ff0000" stroke-width="1.35"/>
<line x1="645.43" y1="134.21" x2="660.63" y2="134.21" stroke="#ff0000" stroke-width="1.35"/>
<line x1="663.70" y1="116.70" x2="663.70" y2="122.36" stroke="#ff0000" stroke-width="1.35"/>
<line x1="656.10" y1="116.70" x2="671.30" y2="116.70" stroke="#ff0000" stroke-width="1.35"/>
<line x1="656.10" y1="122.36" x2="671.30" y2="122.36" stroke="#ff0000" stroke-width="1.35"/>
<line x1="673.47" y1="107.81" x2="673.47" y2="113.41" stroke="#ff0000" stroke-width="1.35"/>
<line x1="665.87" y1="107.81" x2="681.07" y2="107.81" stroke="#ff0000" stroke-width="1.35"/>
<line x1="665.87" y1="113.41" x2="681.07" y2="113.41" stroke="#ff0000" stroke-width="1.35"/>
<line x1="682.49" y1="99.35" x2="682.49" y2="104.75" stroke="#ff0000" stroke-width="1.35"/>
<line x1="674.89" y1="99.35" x2="690.09" y2="99.35" stroke="#ff0000" stroke-width="1.35"/>
<line x1="674.89" y1="104.75" x2="690.09" y2="104.75" stroke="#ff0000" stroke-width="1.35"/>
<line x1="690.86" y1="92.58" x2="690.86" y2="97.78" stroke="#ff0000" stroke-width="1.35"/>
<line x1="683.26" y1="92.58" x2="698.46" y2="92.58" stroke="#ff0000" stroke-width="1.35"/>
<line x1="683.26" y1="97.78" x2="698.46" y2="97.78" stroke="#ff0000" stroke-width="1.35"/>
<line x1="698.68" y1="86.92" x2="698.68" y2="91.92" stroke="#ff0000" stroke-width="1.35"/>
<line x1="691.08" y1="86.92" x2="706.28" y2="86.92" stroke="#ff0000" stroke-width="1.35"/>
<line x1="691.08" y1="91.92" x2="706.28" y2="91.92" stroke="#ff0000" stroke-width="1.35"/>
<line x1="706.00" y1="82.22" x2="706.00" y2="87.02" stroke="#ff0000" stroke-width="1.35"/>
<line x1="698.40" y1="82.22" x2="713.60" y2="82.22" stroke="#ff0000" stroke-width="1.35"/>
<line x1="698.40" y1="87.02" x2="713.60" y2="87.02" stroke="#ff0000" stroke-width="1.35"/>
<line x1="712.90" y1="78.29" x2="712.90" y2="82.89" stroke="#ff0000" stroke-width="1.35"/>
<line x1="705.30" y1="78.29" x2="720.50" y2="78.29" stroke="#ff0000" stroke-width="1.35"/>
<line x1="705.30" y1="82.89" x2="720.50" y2="82.89" stroke="#ff0000" stroke-width="1.35"/>
<line x1="719.41" y1="74.75" x2="719.41" y2="79.14" stroke="#ff0000" stroke-width="1.35"/>
<line x1="711.81" y1="74.75" x2="727.01" y2="74.75" stroke="#ff0000" stroke-width="1.35"/>
<line x1="711.81" y1="79.14" x2="727.01" y2="79.14" stroke="#ff0000" stroke-width="1.35"/>
<line x1="725.58" y1="71.69" x2="725.58" y2="75.86" stroke="#ff0000" stroke-width="1.35"/>
<line x1="717.98" y1="71.69" x2="733.18" y2="71.69" stroke="#ff0000" stroke-width="1.35"/>
<line x1="717.98" y1="75.86" x2="733.18" y2="75.86" stroke="#ff0000" stroke-width="1.35"/>
<line x1="731.44" y1="69.02" x2="731.44" y2="72.98" stroke="#ff0000" stroke-width="1.35"/>
<line x1="723.84" y1="69.02" x2="739.04" y2="69.02" stroke="#ff0000" stroke-width="1.35"/>
<line x1="723.84" y1="72.98" x2="739.04" y2="72.98" stroke="#ff0000" stroke-width="1.35"/>
<line x1="737.02" y1="66.66" x2="737.02" y2="70.41" stroke="#ff0000" stroke-width="1.35"/>
<line x1="729.42" y1="66.66" x2="744.62" y2="66.66" stroke="#ff0000" stroke-width="1.35"/>
<line x1="729.42" y1="70.41" x2="744.62" y2="70.41" stroke="#ff0000" stroke-width="1.35"/>
<line x1="742.35" y1="64.57" x2="742.35" y2="68.10" stroke="#ff0000" stroke-width="1.35"/>
<line x1="734.75" y1="64.57" x2="749.95" y2="64.57" stroke="#ff0000" stroke-width="1.35"/>
<line x1="734.75" y1="68.10" x2="749.95" y2="68.10" stroke="#ff0000" stroke-width="1.35"/>
<line x1="747.45" y1="62.69" x2="747.45" y2="66.01" stroke="#ff0000" stroke-width="1.35"/>
<line x1="739.85" y1="62.69" x2="755.05" y2="62.69" stroke="#ff0000" stroke-width="1.35"/>
<line x1="739.85" y1="66.01" x2="755.05" y2="66.01" stroke="#ff0000" stroke-width="1.35"/>
<line x1="752.33" y1="61.00" x2="752.33" y2="64.11" stroke="#ff0000" stroke-width="1.35"/>
<line x1="744.73" y1="61.00" x2="759.93" y2="61.00" stroke="#ff0000" stroke-width="1.35"/>
<line x1="744.73" y1="64.11" x2="759.93" y2="64.11" stroke="#ff0000" stroke-width="1.35"/>
<polyline points="424.98,460.82 426.64,459.05 428.30,457.28 429.95,455.52 431.61,453.75 433.27,451.98 434.93,450.20 436.58,448.42 438.24,446.64 439.90,444.85 441.55,443.06 443.21,441.26 444.87,439.45 446.52,437.64 448.18,435.82 449.84,433.99 451.49,432.14 453.15,430.29 454.81,428.43 456.46,426.56 458.12,424.67 459.78,422.78 461.44,420.87 463.09,418.94 464.75,417.00 466.41,415.05 468.06,413.08 469.72,411.09 471.38,409.09 473.03,407.07 474.69,405.03 476.35,402.97 478.00,400.89 479.66,398.79 481.32,396.68 482.97,394.54 484.63,392.37 486.29,390.19 487.94,387.98 489.60,385.75 491.26,383.50 492.92,381.23 494.57,378.93 496.23,376.62 497.89,374.29 499.54,371.93 501.20,369.56 502.86,367.17 504.51,364.75 506.17,362.32 507.83,359.88 509.48,357.41 511.14,354.93 512.80,352.43 514.45,349.91 516.11,347.38 517.77,344.83 519.43,342.27 521.08,339.69 522.74,337.09 524.40,334.48 526.05,331.86 527.71,329.23 529.37,326.58 531.02,323.92 532.68,321.26 534.34,318.58 535.99,315.90 537.65,313.21 539.31,310.52 540.96,307.83 542.62,305.13 544.28,302.43 545.94,299.74 547.59,297.04 549.25,294.35 550.91,291.66 552.56,288.97 554.22,286.29 555.88,283.62 557.53,280.95 559.19,278.28 560.85,275.61 562.50,272.94 564.16,270.26 565.82,267.57 567.47,264.87 569.13,262.16 570.79,259.42 572.44,256.67 574.10,253.90 575.76,251.10 577.42,248.28 579.07,245.43 580.73,242.55 582.39,239.65 584.04,236.74 585.70,233.81 587.36,230.87 589.01,227.92 590.67,224.98 592.33,222.03 593.98,219.09 595.64,216.16 597.30,213.24 598.95,210.34 600.61,207.46 602.27,204.61 603.93,201.78 605.58,198.99 607.24,196.23 608.90,193.51 610.55,190.83 612.21,188.20 613.87,185.62 615.52,183.09 617.18,180.60 618.84,178.15 620.49,175.72 622.15,173.31 623.81,170.92 625.46,168.52 627.12,166.11 628.78,163.69 630.44,161.25 632.09,158.80 633.75,156.36 635.41,153.94 637.06,151.55 638.72,149.20 640.38,146.91 642.03,144.69 643.69,142.54 645.35,140.45 647.00,138.41 648.66,136.43 650.32,134.48 651.97,132.56 653.63,130.67 655.29,128.79 656.95,126.95 658.60,125.14 660.26,123.38 661.92,121.67 663.57,120.03 665.23,118.47 666.89,116.95 668.54,115.47 670.20,114.01 671.86,112.54 673.51,111.03 675.17,109.48 676.83,107.91 678.48,106.32 680.14,104.75 681.80,103.22 683.45,101.75 685.11,100.34 686.77,98.98 688.43,97.68 690.08,96.41 691.74,95.17 693.40,93.96 695.05,92.78 696.71,91.64 698.37,90.52 700.02,89.43 701.68,88.38 703.34,87.36 704.99,86.37 706.65,85.40 708.31,84.46 709.96,83.55 711.62,82.66 713.28,81.80 714.94,80.96 716.59,80.14 718.25,79.35 719.91,78.58 721.56,77.83 723.22,77.10 724.88,76.39 726.53,75.70 728.19,75.03 729.85,74.38 731.50,73.75 733.16,73.13 734.82,72.54 736.47,71.96 738.13,71.39 739.79,70.84 741.45,70.31 743.10,69.79 744.76,69.28 746.42,68.79 748.07,68.32 749.73,67.86 751.39,67.41 753.04,66.96 754.70,66.51" fill="none" stroke="#008b00" stroke-width="2.0" stroke-linejoin="round" />
<line x1="424.98" y1="459.02" x2="424.98" y2="462.62" stroke="#008b00" stroke-width="1.35"/>
<line x1="417.38" y1="459.02" x2="432.58" y2="459.02" stroke="#008b00" stroke-width="1.35"/>
<line x1="417.38" y1="462.62" x2="432.58" y2="462.62" stroke="#008b00" stroke-width="1.35"/>
<line x1="484.85" y1="390.49" x2="484.85" y2="393.69" stroke="#008b00" stroke-width="1.35"/>
<line x1="477.25" y1="390.49" x2="492.45" y2="390.49" stroke="#008b00" stroke-width="1.35"/>
<line x1="477.25" y1="393.69" x2="492.45" y2="393.69" stroke="#008b00" stroke-width="1.35"/>
<line x1="524.28" y1="333.06" x2="524.28" y2="336.26" stroke="#008b00" stroke-width="1.35"/>
<line x1="516.68" y1="333.06" x2="531.88" y2="333.06" stroke="#008b00" stroke-width="1.35"/>
<line x1="516.68" y1="336.26" x2="531.88" y2="336.26" stroke="#008b00" stroke-width="1.35"/>
<line x1="553.74" y1="285.48" x2="553.74" y2="288.68" stroke="#008b00" stroke-width="1.35"/>
<line x1="546.14" y1="285.48" x2="561.34" y2="285.48" stroke="#008b00" stroke-width="1.35"/>
<line x1="546.14" y1="288.68" x2="561.34" y2="288.68" stroke="#008b00" stroke-width="1.35"/>
<line x1="577.25" y1="246.96" x2="577.25" y2="250.16" stroke="#008b00" stroke-width="1.35"/>
<line x1="569.65" y1="246.96" x2="584.85" y2="246.96" stroke="#008b00" stroke-width="1.35"/>
<line x1="569.65" y1="250.16" x2="584.85" y2="250.16" stroke="#008b00" stroke-width="1.35"/>
<line x1="596.83" y1="212.47" x2="596.83" y2="215.67" stroke="#008b00" stroke-width="1.35"/>
<line x1="589.23" y1="212.47" x2="604.43" y2="212.47" stroke="#008b00" stroke-width="1.35"/>
<line x1="589.23" y1="215.67" x2="604.43" y2="215.67" stroke="#008b00" stroke-width="1.35"/>
<line x1="613.60" y1="184.43" x2="613.60" y2="187.63" stroke="#008b00" stroke-width="1.35"/>
<line x1="606.00" y1="184.43" x2="621.20" y2="184.43" stroke="#008b00" stroke-width="1.35"/>
<line x1="606.00" y1="187.63" x2="621.20" y2="187.63" stroke="#008b00" stroke-width="1.35"/>
<line x1="628.27" y1="162.84" x2="628.27" y2="166.04" stroke="#008b00" stroke-width="1.35"/>
<line x1="620.67" y1="162.84" x2="635.87" y2="162.84" stroke="#008b00" stroke-width="1.35"/>
<line x1="620.67" y1="166.04" x2="635.87" y2="166.04" stroke="#008b00" stroke-width="1.35"/>
<line x1="641.30" y1="144.06" x2="641.30" y2="147.26" stroke="#008b00" stroke-width="1.35"/>
<line x1="633.70" y1="144.06" x2="648.90" y2="144.06" stroke="#008b00" stroke-width="1.35"/>
<line x1="633.70" y1="147.26" x2="648.90" y2="147.26" stroke="#008b00" stroke-width="1.35"/>
<line x1="653.03" y1="129.75" x2="653.03" y2="132.95" stroke="#008b00" stroke-width="1.35"/>
<line x1="645.43" y1="129.75" x2="660.63" y2="129.75" stroke="#008b00" stroke-width="1.35"/>
<line x1="645.43" y1="132.95" x2="660.63" y2="132.95" stroke="#008b00" stroke-width="1.35"/>
<line x1="663.70" y1="118.31" x2="663.70" y2="121.51" stroke="#008b00" stroke-width="1.35"/>
<line x1="656.10" y1="118.31" x2="671.30" y2="118.31" stroke="#008b00" stroke-width="1.35"/>
<line x1="656.10" y1="121.51" x2="671.30" y2="121.51" stroke="#008b00" stroke-width="1.35"/>
<line x1="673.47" y1="109.47" x2="673.47" y2="112.67" stroke="#008b00" stroke-width="1.35"/>
<line x1="665.87" y1="109.47" x2="681.07" y2="109.47" stroke="#008b00" stroke-width="1.35"/>
<line x1="665.87" y1="112.67" x2="681.07" y2="112.67" stroke="#008b00" stroke-width="1.35"/>
<line x1="682.49" y1="101.00" x2="682.49" y2="104.20" stroke="#008b00" stroke-width="1.35"/>
<line x1="674.89" y1="101.00" x2="690.09" y2="101.00" stroke="#008b00" stroke-width="1.35"/>
<line x1="674.89" y1="104.20" x2="690.09" y2="104.20" stroke="#008b00" stroke-width="1.35"/>
<line x1="690.86" y1="94.22" x2="690.86" y2="97.42" stroke="#008b00" stroke-width="1.35"/>
<line x1="683.26" y1="94.22" x2="698.46" y2="94.22" stroke="#008b00" stroke-width="1.35"/>
<line x1="683.26" y1="97.42" x2="698.46" y2="97.42" stroke="#008b00" stroke-width="1.35"/>
<line x1="698.68" y1="88.71" x2="698.68" y2="91.91" stroke="#008b00" stroke-width="1.35"/>
<line x1="691.08" y1="88.71" x2="706.28" y2="88.71" stroke="#008b00" stroke-width="1.35"/>
<line x1="691.08" y1="91.91" x2="706.28" y2="91.91" stroke="#008b00" stroke-width="1.35"/>
<line x1="706.00" y1="84.17" x2="706.00" y2="87.37" stroke="#008b00" stroke-width="1.35"/>
<line x1="698.40" y1="84.17" x2="713.60" y2="84.17" stroke="#008b00" stroke-width="1.35"/>
<line x1="698.40" y1="87.37" x2="713.60" y2="87.37" stroke="#008b00" stroke-width="1.35"/>
<line x1="712.90" y1="80.39" x2="712.90" y2="83.59" stroke="#008b00" stroke-width="1.35"/>
<line x1="705.30" y1="80.39" x2="720.50" y2="80.39" stroke="#008b00" stroke-width="1.35"/>
<line x1="705.30" y1="83.59" x2="720.50" y2="83.59" stroke="#008b00" stroke-width="1.35"/>
<line x1="719.41" y1="77.20" x2="719.41" y2="80.40" stroke="#008b00" stroke-width="1.35"/>
<line x1="711.81" y1="77.20" x2="727.01" y2="77.20" stroke="#008b00" stroke-width="1.35"/>
<line x1="711.81" y1="80.40" x2="727.01" y2="80.40" stroke="#008b00" stroke-width="1.35"/>
<line x1="725.58" y1="74.50" x2="725.58" y2="77.70" stroke="#008b00" stroke-width="1.35"/>
<line x1="717.98" y1="74.50" x2="733.18" y2="74.50" stroke="#008b00" stroke-width="1.35"/>
<line x1="717.98" y1="77.70" x2="733.18" y2="77.70" stroke="#008b00" stroke-width="1.35"/>
<line x1="731.44" y1="72.17" x2="731.44" y2="75.37" stroke="#008b00" stroke-width="1.35"/>
<line x1="723.84" y1="72.17" x2="739.04" y2="72.17" stroke="#008b00" stroke-width="1.35"/>
<line x1="723.84" y1="75.37" x2="739.04" y2="75.37" stroke="#008b00" stroke-width="1.35"/>
<line x1="737.02" y1="70.17" x2="737.02" y2="73.37" stroke="#008b00" stroke-width="1.35"/>
<line x1="729.42" y1="70.17" x2="744.62" y2="70.17" stroke="#008b00" stroke-width="1.35"/>
<line x1="729.42" y1="73.37" x2="744.62" y2="73.37" stroke="#008b00" stroke-width="1.35"/>
<line x1="742.35" y1="68.42" x2="742.35" y2="71.62" stroke="#008b00" stroke-width="1.35"/>
<line x1="734.75" y1="68.42" x2="749.95" y2="68.42" stroke="#008b00" stroke-width="1.35"/>
<line x1="734.75" y1="71.62" x2="749.95" y2="71.62" stroke="#008b00" stroke-width="1.35"/>
<line x1="747.45" y1="66.90" x2="747.45" y2="70.10" stroke="#008b00" stroke-width="1.35"/>
<line x1="739.85" y1="66.90" x2="755.05" y2="66.90" stroke="#008b00" stroke-width="1.35"/>
<line x1="739.85" y1="70.10" x2="755.05" y2="70.10" stroke="#008b00" stroke-width="1.35"/>
<line x1="752.33" y1="65.55" x2="752.33" y2="68.75" stroke="#008b00" stroke-width="1.35"/>
<line x1="744.73" y1="65.55" x2="759.93" y2="65.55" stroke="#008b00" stroke-width="1.35"/>
<line x1="744.73" y1="68.75" x2="759.93" y2="68.75" stroke="#008b00" stroke-width="1.35"/>
<polyline points="424.98,459.15 426.64,456.99 428.30,454.82 429.95,452.65 431.61,450.48 433.27,448.31 434.93,446.14 436.58,443.97 438.24,441.80 439.90,439.62 441.55,437.45 443.21,435.28 444.87,433.10 446.52,430.93 448.18,428.75 449.84,426.57 451.49,424.39 453.15,422.21 454.81,420.03 456.46,417.84 458.12,415.66 459.78,413.47 461.44,411.28 463.09,409.09 464.75,406.89 466.41,404.70 468.06,402.50 469.72,400.30 471.38,398.10 473.03,395.89 474.69,393.68 476.35,391.47 478.00,389.26 479.66,387.04 481.32,384.82 482.97,382.60 484.63,380.37 486.29,378.14 487.94,375.91 489.60,373.67 491.26,371.43 492.92,369.18 494.57,366.93 496.23,364.67 497.89,362.41 499.54,360.14 501.20,357.86 502.86,355.57 504.51,353.27 506.17,350.97 507.83,348.66 509.48,346.33 511.14,344.00 512.80,341.66 514.45,339.30 516.11,336.94 517.77,334.56 519.43,332.17 521.08,329.76 522.74,327.35 524.40,324.91 526.05,322.47 527.71,320.01 529.37,317.54 531.02,315.06 532.68,312.58 534.34,310.08 535.99,307.58 537.65,305.08 539.31,302.58 540.96,300.07 542.62,297.56 544.28,295.06 545.94,292.56 547.59,290.06 549.25,287.58 550.91,285.09 552.56,282.62 554.22,280.16 555.88,277.71 557.53,275.27 559.19,272.83 560.85,270.40 562.50,267.97 564.16,265.53 565.82,263.09 567.47,260.64 569.13,258.18 570.79,255.71 572.44,253.22 574.10,250.71 575.76,248.18 577.42,245.62 579.07,243.04 580.73,240.44 582.39,237.81 584.04,235.16 585.70,232.48 587.36,229.79 589.01,227.08 590.67,224.35 592.33,221.60 593.98,218.84 595.64,216.07 597.30,213.28 598.95,210.49 600.61,207.70 602.27,204.92 603.93,202.17 605.58,199.46 607.24,196.80 608.90,194.20 610.55,191.67 612.21,189.22 613.87,186.87 615.52,184.61 617.18,182.44 618.84,180.33 620.49,178.25 622.15,176.20 623.81,174.15 625.46,172.07 627.12,169.96 628.78,167.78 630.44,165.54 632.09,163.25 633.75,160.91 635.41,158.57 637.06,156.22 638.72,153.88 640.38,151.59 642.03,149.34 643.69,147.15 645.35,145.02 647.00,142.94 648.66,140.90 650.32,138.92 651.97,136.98 653.63,135.07 655.29,133.21 656.95,131.40 658.60,129.64 660.26,127.95 661.92,126.34 663.57,124.81 665.23,123.38 666.89,122.01 668.54,120.68 670.20,119.37 671.86,118.04 673.51,116.68 675.17,115.26 676.83,113.80 678.48,112.33 680.14,110.88 681.80,109.47 683.45,108.13 685.11,106.86 686.77,105.65 688.43,104.47 690.08,103.32 691.74,102.18 693.40,101.05 695.05,99.93 696.71,98.84 698.37,97.78 700.02,96.75 701.68,95.77 703.34,94.82 704.99,93.90 706.65,93.00 708.31,92.14 709.96,91.30 711.62,90.48 713.28,89.69 714.94,88.93 716.59,88.17 718.25,87.42 719.91,86.66 721.56,85.90 723.22,85.14 724.88,84.39 726.53,83.67 728.19,82.97 729.85,82.29 731.50,81.63 733.16,80.99 734.82,80.36 736.47,79.75 738.13,79.15 739.79,78.57 741.45,78.00 743.10,77.45 744.76,76.91 746.42,76.39 748.07,75.88 749.73,75.39 751.39,74.90 753.04,74.42 754.70,73.93" fill="none" stroke="#0000ff" stroke-width="2.0" stroke-linejoin="round" />
<line x1="424.98" y1="448.85" x2="424.98" y2="469.45" stroke="#0000ff" stroke-width="1.35"/>
<line x1="417.38" y1="448.85" x2="432.58" y2="448.85" stroke="#0000ff" stroke-width="1.35"/>
<line x1="417.38" y1="469.45" x2="432.58" y2="469.45" stroke="#0000ff" stroke-width="1.35"/>
<line x1="484.85" y1="379.28" x2="484.85" y2="380.88" stroke="#0000ff" stroke-width="1.35"/>
<line x1="477.25" y1="379.28" x2="492.45" y2="379.28" stroke="#0000ff" stroke-width="1.35"/>
<line x1="477.25" y1="380.88" x2="492.45" y2="380.88" stroke="#0000ff" stroke-width="1.35"/>
<line x1="524.28" y1="324.28" x2="524.28" y2="325.88" stroke="#0000ff" stroke-width="1.35"/>
<line x1="516.68" y1="324.28" x2="531.88" y2="324.28" stroke="#0000ff" stroke-width="1.35"/>
<line x1="516.68" y1="325.88" x2="531.88" y2="325.88" stroke="#0000ff" stroke-width="1.35"/>
<line x1="553.74" y1="280.08" x2="553.74" y2="281.68" stroke="#0000ff" stroke-width="1.35"/>
<line x1="546.14" y1="280.08" x2="561.34" y2="280.08" stroke="#0000ff" stroke-width="1.35"/>
<line x1="546.14" y1="281.68" x2="561.34" y2="281.68" stroke="#0000ff" stroke-width="1.35"/>
<line x1="577.25" y1="245.08" x2="577.25" y2="246.68" stroke="#0000ff" stroke-width="1.35"/>
<line x1="569.65" y1="245.08" x2="584.85" y2="245.08" stroke="#0000ff" stroke-width="1.35"/>
<line x1="569.65" y1="246.68" x2="584.85" y2="246.68" stroke="#0000ff" stroke-width="1.35"/>
<line x1="596.83" y1="213.27" x2="596.83" y2="214.87" stroke="#0000ff" stroke-width="1.35"/>
<line x1="589.23" y1="213.27" x2="604.43" y2="213.27" stroke="#0000ff" stroke-width="1.35"/>
<line x1="589.23" y1="214.87" x2="604.43" y2="214.87" stroke="#0000ff" stroke-width="1.35"/>
<line x1="613.60" y1="186.44" x2="613.60" y2="188.04" stroke="#0000ff" stroke-width="1.35"/>
<line x1="606.00" y1="186.44" x2="621.20" y2="186.44" stroke="#0000ff" stroke-width="1.35"/>
<line x1="606.00" y1="188.04" x2="621.20" y2="188.04" stroke="#0000ff" stroke-width="1.35"/>
<line x1="628.27" y1="167.66" x2="628.27" y2="169.26" stroke="#0000ff" stroke-width="1.35"/>
<line x1="620.67" y1="167.66" x2="635.87" y2="167.66" stroke="#0000ff" stroke-width="1.35"/>
<line x1="620.67" y1="169.26" x2="635.87" y2="169.26" stroke="#0000ff" stroke-width="1.35"/>
<line x1="641.30" y1="149.52" x2="641.30" y2="151.12" stroke="#0000ff" stroke-width="1.35"/>
<line x1="633.70" y1="149.52" x2="648.90" y2="149.52" stroke="#0000ff" stroke-width="1.35"/>
<line x1="633.70" y1="151.12" x2="648.90" y2="151.12" stroke="#0000ff" stroke-width="1.35"/>
<line x1="653.03" y1="134.96" x2="653.03" y2="136.56" stroke="#0000ff" stroke-width="1.35"/>
<line x1="645.43" y1="134.96" x2="660.63" y2="134.96" stroke="#0000ff" stroke-width="1.35"/>
<line x1="645.43" y1="136.56" x2="660.63" y2="136.56" stroke="#0000ff" stroke-width="1.35"/>
<line x1="663.70" y1="123.91" x2="663.70" y2="125.51" stroke="#0000ff" stroke-width="1.35"/>
<line x1="656.10" y1="123.91" x2="671.30" y2="123.91" stroke="#0000ff" stroke-width="1.35"/>
<line x1="656.10" y1="125.51" x2="671.30" y2="125.51" stroke="#0000ff" stroke-width="1.35"/>
<line x1="673.47" y1="115.92" x2="673.47" y2="117.52" stroke="#0000ff" stroke-width="1.35"/>
<line x1="665.87" y1="115.92" x2="681.07" y2="115.92" stroke="#0000ff" stroke-width="1.35"/>
<line x1="665.87" y1="117.52" x2="681.07" y2="117.52" stroke="#0000ff" stroke-width="1.35"/>
<line x1="682.49" y1="108.11" x2="682.49" y2="109.71" stroke="#0000ff" stroke-width="1.35"/>
<line x1="674.89" y1="108.11" x2="690.09" y2="108.11" stroke="#0000ff" stroke-width="1.35"/>
<line x1="674.89" y1="109.71" x2="690.09" y2="109.71" stroke="#0000ff" stroke-width="1.35"/>
<line x1="690.86" y1="101.99" x2="690.86" y2="103.59" stroke="#0000ff" stroke-width="1.35"/>
<line x1="683.26" y1="101.99" x2="698.46" y2="101.99" stroke="#0000ff" stroke-width="1.35"/>
<line x1="683.26" y1="103.59" x2="698.46" y2="103.59" stroke="#0000ff" stroke-width="1.35"/>
<line x1="698.68" y1="96.78" x2="698.68" y2="98.38" stroke="#0000ff" stroke-width="1.35"/>
<line x1="691.08" y1="96.78" x2="706.28" y2="96.78" stroke="#0000ff" stroke-width="1.35"/>
<line x1="691.08" y1="98.38" x2="706.28" y2="98.38" stroke="#0000ff" stroke-width="1.35"/>
<line x1="706.00" y1="92.55" x2="706.00" y2="94.15" stroke="#0000ff" stroke-width="1.35"/>
<line x1="698.40" y1="92.55" x2="713.60" y2="92.55" stroke="#0000ff" stroke-width="1.35"/>
<line x1="698.40" y1="94.15" x2="713.60" y2="94.15" stroke="#0000ff" stroke-width="1.35"/>
<line x1="712.90" y1="89.07" x2="712.90" y2="90.67" stroke="#0000ff" stroke-width="1.35"/>
<line x1="705.30" y1="89.07" x2="720.50" y2="89.07" stroke="#0000ff" stroke-width="1.35"/>
<line x1="705.30" y1="90.67" x2="720.50" y2="90.67" stroke="#0000ff" stroke-width="1.35"/>
<line x1="719.41" y1="86.09" x2="719.41" y2="87.69" stroke="#0000ff" stroke-width="1.35"/>
<line x1="711.81" y1="86.09" x2="727.01" y2="86.09" stroke="#0000ff" stroke-width="1.35"/>
<line x1="711.81" y1="87.69" x2="727.01" y2="87.69" stroke="#0000ff" stroke-width="1.35"/>
<line x1="725.58" y1="83.28" x2="725.58" y2="84.88" stroke="#0000ff" stroke-width="1.35"/>
<line x1="717.98" y1="83.28" x2="733.18" y2="83.28" stroke="#0000ff" stroke-width="1.35"/>
<line x1="717.98" y1="84.88" x2="733.18" y2="84.88" stroke="#0000ff" stroke-width="1.35"/>
<line x1="731.44" y1="80.86" x2="731.44" y2="82.46" stroke="#0000ff" stroke-width="1.35"/>
<line x1="723.84" y1="80.86" x2="739.04" y2="80.86" stroke="#0000ff" stroke-width="1.35"/>
<line x1="723.84" y1="82.46" x2="739.04" y2="82.46" stroke="#0000ff" stroke-width="1.35"/>
<line x1="737.02" y1="78.75" x2="737.02" y2="80.35" stroke="#0000ff" stroke-width="1.35"/>
<line x1="729.42" y1="78.75" x2="744.62" y2="78.75" stroke="#0000ff" stroke-width="1.35"/>
<line x1="729.42" y1="80.35" x2="744.62" y2="80.35" stroke="#0000ff" stroke-width="1.35"/>
<line x1="742.35" y1="76.90" x2="742.35" y2="78.50" stroke="#0000ff" stroke-width="1.35"/>
<line x1="734.75" y1="76.90" x2="749.95" y2="76.90" stroke="#0000ff" stroke-width="1.35"/>
<line x1="734.75" y1="78.50" x2="749.95" y2="78.50" stroke="#0000ff" stroke-width="1.35"/>
<line x1="747.45" y1="75.27" x2="747.45" y2="76.87" stroke="#0000ff" stroke-width="1.35"/>
<line x1="739.85" y1="75.27" x2="755.05" y2="75.27" stroke="#0000ff" stroke-width="1.35"/>
<line x1="739.85" y1="76.87" x2="755.05" y2="76.87" stroke="#0000ff" stroke-width="1.35"/>
<line x1="752.33" y1="73.83" x2="752.33" y2="75.43" stroke="#0000ff" stroke-width="1.35"/>
<line x1="744.73" y1="73.83" x2="759.93" y2="73.83" stroke="#0000ff" stroke-width="1.35"/>
<line x1="744.73" y1="75.43" x2="759.93" y2="75.43" stroke="#0000ff" stroke-width="1.35"/>
</g>
<rect x="75.2" y="10.2" width="679.4" height="566.5999999999999" fill="none" stroke="#000" stroke-width="2.3"/>
<line x1="414.80" y1="10.20" x2="414.80" y2="576.80" stroke="#000" stroke-width="2.3"/>
<line x1="75.20" y1="293.20" x2="414.80" y2="293.20" stroke="#000" stroke-width="2.3"/>
<line x1="91.74" y1="10.20" x2="91.74" y2="14.20" stroke="#000" stroke-width="1.45"/>
<line x1="91.74" y1="293.20" x2="91.74" y2="289.20" stroke="#000" stroke-width="1.45"/>
<line x1="91.74" y1="293.20" x2="91.74" y2="297.20" stroke="#000" stroke-width="1.45"/>
<line x1="91.74" y1="576.80" x2="91.74" y2="572.80" stroke="#000" stroke-width="1.45"/>
<line x1="108.72" y1="10.20" x2="108.72" y2="14.20" stroke="#000" stroke-width="1.45"/>
<line x1="108.72" y1="293.20" x2="108.72" y2="289.20" stroke="#000" stroke-width="1.45"/>
<line x1="108.72" y1="293.20" x2="108.72" y2="297.20" stroke="#000" stroke-width="1.45"/>
<line x1="108.72" y1="576.80" x2="108.72" y2="572.80" stroke="#000" stroke-width="1.45"/>
<line x1="125.71" y1="10.20" x2="125.71" y2="14.20" stroke="#000" stroke-width="1.45"/>
<line x1="125.71" y1="293.20" x2="125.71" y2="289.20" stroke="#000" stroke-width="1.45"/>
<line x1="125.71" y1="293.20" x2="125.71" y2="297.20" stroke="#000" stroke-width="1.45"/>
<line x1="125.71" y1="576.80" x2="125.71" y2="572.80" stroke="#000" stroke-width="1.45"/>
<line x1="142.70" y1="10.20" x2="142.70" y2="19.10" stroke="#000" stroke-width="1.45"/>
<line x1="142.70" y1="293.20" x2="142.70" y2="284.30" stroke="#000" stroke-width="1.45"/>
<line x1="142.70" y1="293.20" x2="142.70" y2="302.10" stroke="#000" stroke-width="1.45"/>
<line x1="142.70" y1="576.80" x2="142.70" y2="567.90" stroke="#000" stroke-width="1.45"/>
<line x1="159.69" y1="10.20" x2="159.69" y2="14.20" stroke="#000" stroke-width="1.45"/>
<line x1="159.69" y1="293.20" x2="159.69" y2="289.20" stroke="#000" stroke-width="1.45"/>
<line x1="159.69" y1="293.20" x2="159.69" y2="297.20" stroke="#000" stroke-width="1.45"/>
<line x1="159.69" y1="576.80" x2="159.69" y2="572.80" stroke="#000" stroke-width="1.45"/>
<line x1="176.68" y1="10.20" x2="176.68" y2="14.20" stroke="#000" stroke-width="1.45"/>
<line x1="176.68" y1="293.20" x2="176.68" y2="289.20" stroke="#000" stroke-width="1.45"/>
<line x1="176.68" y1="293.20" x2="176.68" y2="297.20" stroke="#000" stroke-width="1.45"/>
<line x1="176.68" y1="576.80" x2="176.68" y2="572.80" stroke="#000" stroke-width="1.45"/>
<line x1="193.66" y1="10.20" x2="193.66" y2="14.20" stroke="#000" stroke-width="1.45"/>
<line x1="193.66" y1="293.20" x2="193.66" y2="289.20" stroke="#000" stroke-width="1.45"/>
<line x1="193.66" y1="293.20" x2="193.66" y2="297.20" stroke="#000" stroke-width="1.45"/>
<line x1="193.66" y1="576.80" x2="193.66" y2="572.80" stroke="#000" stroke-width="1.45"/>
<line x1="210.65" y1="10.20" x2="210.65" y2="19.10" stroke="#000" stroke-width="1.45"/>
<line x1="210.65" y1="293.20" x2="210.65" y2="284.30" stroke="#000" stroke-width="1.45"/>
<line x1="210.65" y1="293.20" x2="210.65" y2="302.10" stroke="#000" stroke-width="1.45"/>
<line x1="210.65" y1="576.80" x2="210.65" y2="567.90" stroke="#000" stroke-width="1.45"/>
<line x1="227.64" y1="10.20" x2="227.64" y2="14.20" stroke="#000" stroke-width="1.45"/>
<line x1="227.64" y1="293.20" x2="227.64" y2="289.20" stroke="#000" stroke-width="1.45"/>
<line x1="227.64" y1="293.20" x2="227.64" y2="297.20" stroke="#000" stroke-width="1.45"/>
<line x1="227.64" y1="576.80" x2="227.64" y2="572.80" stroke="#000" stroke-width="1.45"/>
<line x1="244.62" y1="10.20" x2="244.62" y2="14.20" stroke="#000" stroke-width="1.45"/>
<line x1="244.62" y1="293.20" x2="244.62" y2="289.20" stroke="#000" stroke-width="1.45"/>
<line x1="244.62" y1="293.20" x2="244.62" y2="297.20" stroke="#000" stroke-width="1.45"/>
<line x1="244.62" y1="576.80" x2="244.62" y2="572.80" stroke="#000" stroke-width="1.45"/>
<line x1="261.61" y1="10.20" x2="261.61" y2="14.20" stroke="#000" stroke-width="1.45"/>
<line x1="261.61" y1="293.20" x2="261.61" y2="289.20" stroke="#000" stroke-width="1.45"/>
<line x1="261.61" y1="293.20" x2="261.61" y2="297.20" stroke="#000" stroke-width="1.45"/>
<line x1="261.61" y1="576.80" x2="261.61" y2="572.80" stroke="#000" stroke-width="1.45"/>
<line x1="278.60" y1="10.20" x2="278.60" y2="19.10" stroke="#000" stroke-width="1.45"/>
<line x1="278.60" y1="293.20" x2="278.60" y2="284.30" stroke="#000" stroke-width="1.45"/>
<line x1="278.60" y1="293.20" x2="278.60" y2="302.10" stroke="#000" stroke-width="1.45"/>
<line x1="278.60" y1="576.80" x2="278.60" y2="567.90" stroke="#000" stroke-width="1.45"/>
<line x1="295.59" y1="10.20" x2="295.59" y2="14.20" stroke="#000" stroke-width="1.45"/>
<line x1="295.59" y1="293.20" x2="295.59" y2="289.20" stroke="#000" stroke-width="1.45"/>
<line x1="295.59" y1="293.20" x2="295.59" y2="297.20" stroke="#000" stroke-width="1.45"/>
<line x1="295.59" y1="576.80" x2="295.59" y2="572.80" stroke="#000" stroke-width="1.45"/>
<line x1="312.58" y1="10.20" x2="312.58" y2="14.20" stroke="#000" stroke-width="1.45"/>
<line x1="312.58" y1="293.20" x2="312.58" y2="289.20" stroke="#000" stroke-width="1.45"/>
<line x1="312.58" y1="293.20" x2="312.58" y2="297.20" stroke="#000" stroke-width="1.45"/>
<line x1="312.58" y1="576.80" x2="312.58" y2="572.80" stroke="#000" stroke-width="1.45"/>
<line x1="329.56" y1="10.20" x2="329.56" y2="14.20" stroke="#000" stroke-width="1.45"/>
<line x1="329.56" y1="293.20" x2="329.56" y2="289.20" stroke="#000" stroke-width="1.45"/>
<line x1="329.56" y1="293.20" x2="329.56" y2="297.20" stroke="#000" stroke-width="1.45"/>
<line x1="329.56" y1="576.80" x2="329.56" y2="572.80" stroke="#000" stroke-width="1.45"/>
<line x1="346.55" y1="10.20" x2="346.55" y2="19.10" stroke="#000" stroke-width="1.45"/>
<line x1="346.55" y1="293.20" x2="346.55" y2="284.30" stroke="#000" stroke-width="1.45"/>
<line x1="346.55" y1="293.20" x2="346.55" y2="302.10" stroke="#000" stroke-width="1.45"/>
<line x1="346.55" y1="576.80" x2="346.55" y2="567.90" stroke="#000" stroke-width="1.45"/>
<line x1="363.54" y1="10.20" x2="363.54" y2="14.20" stroke="#000" stroke-width="1.45"/>
<line x1="363.54" y1="293.20" x2="363.54" y2="289.20" stroke="#000" stroke-width="1.45"/>
<line x1="363.54" y1="293.20" x2="363.54" y2="297.20" stroke="#000" stroke-width="1.45"/>
<line x1="363.54" y1="576.80" x2="363.54" y2="572.80" stroke="#000" stroke-width="1.45"/>
<line x1="380.53" y1="10.20" x2="380.53" y2="14.20" stroke="#000" stroke-width="1.45"/>
<line x1="380.53" y1="293.20" x2="380.53" y2="289.20" stroke="#000" stroke-width="1.45"/>
<line x1="380.53" y1="293.20" x2="380.53" y2="297.20" stroke="#000" stroke-width="1.45"/>
<line x1="380.53" y1="576.80" x2="380.53" y2="572.80" stroke="#000" stroke-width="1.45"/>
<line x1="397.51" y1="10.20" x2="397.51" y2="14.20" stroke="#000" stroke-width="1.45"/>
<line x1="397.51" y1="293.20" x2="397.51" y2="289.20" stroke="#000" stroke-width="1.45"/>
<line x1="397.51" y1="293.20" x2="397.51" y2="297.20" stroke="#000" stroke-width="1.45"/>
<line x1="397.51" y1="576.80" x2="397.51" y2="572.80" stroke="#000" stroke-width="1.45"/>
<line x1="75.20" y1="267.47" x2="84.10" y2="267.47" stroke="#000" stroke-width="1.45"/>
<line x1="414.80" y1="267.47" x2="405.90" y2="267.47" stroke="#000" stroke-width="1.45"/>
<line x1="75.20" y1="235.31" x2="79.20" y2="235.31" stroke="#000" stroke-width="1.45"/>
<line x1="414.80" y1="235.31" x2="410.80" y2="235.31" stroke="#000" stroke-width="1.45"/>
<line x1="75.20" y1="203.15" x2="84.10" y2="203.15" stroke="#000" stroke-width="1.45"/>
<line x1="414.80" y1="203.15" x2="405.90" y2="203.15" stroke="#000" stroke-width="1.45"/>
<line x1="75.20" y1="171.00" x2="79.20" y2="171.00" stroke="#000" stroke-width="1.45"/>
<line x1="414.80" y1="171.00" x2="410.80" y2="171.00" stroke="#000" stroke-width="1.45"/>
<line x1="75.20" y1="138.84" x2="84.10" y2="138.84" stroke="#000" stroke-width="1.45"/>
<line x1="414.80" y1="138.84" x2="405.90" y2="138.84" stroke="#000" stroke-width="1.45"/>
<line x1="75.20" y1="106.68" x2="79.20" y2="106.68" stroke="#000" stroke-width="1.45"/>
<line x1="414.80" y1="106.68" x2="410.80" y2="106.68" stroke="#000" stroke-width="1.45"/>
<line x1="75.20" y1="74.52" x2="84.10" y2="74.52" stroke="#000" stroke-width="1.45"/>
<line x1="414.80" y1="74.52" x2="405.90" y2="74.52" stroke="#000" stroke-width="1.45"/>
<line x1="75.20" y1="42.36" x2="79.20" y2="42.36" stroke="#000" stroke-width="1.45"/>
<line x1="414.80" y1="42.36" x2="410.80" y2="42.36" stroke="#000" stroke-width="1.45"/>
<line x1="75.20" y1="541.35" x2="79.20" y2="541.35" stroke="#000" stroke-width="1.45"/>
<line x1="414.80" y1="541.35" x2="410.80" y2="541.35" stroke="#000" stroke-width="1.45"/>
<line x1="75.20" y1="505.90" x2="84.10" y2="505.90" stroke="#000" stroke-width="1.45"/>
<line x1="414.80" y1="505.90" x2="405.90" y2="505.90" stroke="#000" stroke-width="1.45"/>
<line x1="75.20" y1="470.45" x2="79.20" y2="470.45" stroke="#000" stroke-width="1.45"/>
<line x1="414.80" y1="470.45" x2="410.80" y2="470.45" stroke="#000" stroke-width="1.45"/>
<line x1="75.20" y1="435.00" x2="84.10" y2="435.00" stroke="#000" stroke-width="1.45"/>
<line x1="414.80" y1="435.00" x2="405.90" y2="435.00" stroke="#000" stroke-width="1.45"/>
<line x1="75.20" y1="399.55" x2="79.20" y2="399.55" stroke="#000" stroke-width="1.45"/>
<line x1="414.80" y1="399.55" x2="410.80" y2="399.55" stroke="#000" stroke-width="1.45"/>
<line x1="75.20" y1="364.10" x2="84.10" y2="364.10" stroke="#000" stroke-width="1.45"/>
<line x1="414.80" y1="364.10" x2="405.90" y2="364.10" stroke="#000" stroke-width="1.45"/>
<line x1="75.20" y1="328.65" x2="79.20" y2="328.65" stroke="#000" stroke-width="1.45"/>
<line x1="414.80" y1="328.65" x2="410.80" y2="328.65" stroke="#000" stroke-width="1.45"/>
<line x1="424.98" y1="10.20" x2="424.98" y2="14.20" stroke="#000" stroke-width="1.45"/>
<line x1="424.98" y1="576.80" x2="424.98" y2="572.80" stroke="#000" stroke-width="1.45"/>
<line x1="443.05" y1="10.20" x2="443.05" y2="14.20" stroke="#000" stroke-width="1.45"/>
<line x1="443.05" y1="576.80" x2="443.05" y2="572.80" stroke="#000" stroke-width="1.45"/>
<line x1="458.70" y1="10.20" x2="458.70" y2="14.20" stroke="#000" stroke-width="1.45"/>
<line x1="458.70" y1="576.80" x2="458.70" y2="572.80" stroke="#000" stroke-width="1.45"/>
<line x1="472.50" y1="10.20" x2="472.50" y2="14.20" stroke="#000" stroke-width="1.45"/>
<line x1="472.50" y1="576.80" x2="472.50" y2="572.80" stroke="#000" stroke-width="1.45"/>
<line x1="484.85" y1="10.20" x2="484.85" y2="19.10" stroke="#000" stroke-width="1.45"/>
<line x1="484.85" y1="576.80" x2="484.85" y2="567.90" stroke="#000" stroke-width="1.45"/>
<line x1="566.08" y1="10.20" x2="566.08" y2="14.20" stroke="#000" stroke-width="1.45"/>
<line x1="566.08" y1="576.80" x2="566.08" y2="572.80" stroke="#000" stroke-width="1.45"/>
<line x1="613.60" y1="10.20" x2="613.60" y2="14.20" stroke="#000" stroke-width="1.45"/>
<line x1="613.60" y1="576.80" x2="613.60" y2="572.80" stroke="#000" stroke-width="1.45"/>
<line x1="647.32" y1="10.20" x2="647.32" y2="14.20" stroke="#000" stroke-width="1.45"/>
<line x1="647.32" y1="576.80" x2="647.32" y2="572.80" stroke="#000" stroke-width="1.45"/>
<line x1="673.47" y1="10.20" x2="673.47" y2="14.20" stroke="#000" stroke-width="1.45"/>
<line x1="673.47" y1="576.80" x2="673.47" y2="572.80" stroke="#000" stroke-width="1.45"/>
<line x1="694.83" y1="10.20" x2="694.83" y2="14.20" stroke="#000" stroke-width="1.45"/>
<line x1="694.83" y1="576.80" x2="694.83" y2="572.80" stroke="#000" stroke-width="1.45"/>
<line x1="712.90" y1="10.20" x2="712.90" y2="14.20" stroke="#000" stroke-width="1.45"/>
<line x1="712.90" y1="576.80" x2="712.90" y2="572.80" stroke="#000" stroke-width="1.45"/>
<line x1="728.55" y1="10.20" x2="728.55" y2="14.20" stroke="#000" stroke-width="1.45"/>
<line x1="728.55" y1="576.80" x2="728.55" y2="572.80" stroke="#000" stroke-width="1.45"/>
<line x1="742.35" y1="10.20" x2="742.35" y2="14.20" stroke="#000" stroke-width="1.45"/>
<line x1="742.35" y1="576.80" x2="742.35" y2="572.80" stroke="#000" stroke-width="1.45"/>
<line x1="414.80" y1="570.30" x2="418.80" y2="570.30" stroke="#000" stroke-width="1.45"/>
<line x1="754.60" y1="570.30" x2="750.60" y2="570.30" stroke="#000" stroke-width="1.45"/>
<line x1="414.80" y1="544.72" x2="423.70" y2="544.72" stroke="#000" stroke-width="1.45"/>
<line x1="754.60" y1="544.72" x2="745.70" y2="544.72" stroke="#000" stroke-width="1.45"/>
<line x1="414.80" y1="519.14" x2="418.80" y2="519.14" stroke="#000" stroke-width="1.45"/>
<line x1="754.60" y1="519.14" x2="750.60" y2="519.14" stroke="#000" stroke-width="1.45"/>
<line x1="414.80" y1="493.57" x2="418.80" y2="493.57" stroke="#000" stroke-width="1.45"/>
<line x1="754.60" y1="493.57" x2="750.60" y2="493.57" stroke="#000" stroke-width="1.45"/>
<line x1="414.80" y1="467.99" x2="418.80" y2="467.99" stroke="#000" stroke-width="1.45"/>
<line x1="754.60" y1="467.99" x2="750.60" y2="467.99" stroke="#000" stroke-width="1.45"/>
<line x1="414.80" y1="442.42" x2="418.80" y2="442.42" stroke="#000" stroke-width="1.45"/>
<line x1="754.60" y1="442.42" x2="750.60" y2="442.42" stroke="#000" stroke-width="1.45"/>
<line x1="414.80" y1="416.84" x2="423.70" y2="416.84" stroke="#000" stroke-width="1.45"/>
<line x1="754.60" y1="416.84" x2="745.70" y2="416.84" stroke="#000" stroke-width="1.45"/>
<line x1="414.80" y1="391.26" x2="418.80" y2="391.26" stroke="#000" stroke-width="1.45"/>
<line x1="754.60" y1="391.26" x2="750.60" y2="391.26" stroke="#000" stroke-width="1.45"/>
<line x1="414.80" y1="365.69" x2="418.80" y2="365.69" stroke="#000" stroke-width="1.45"/>
<line x1="754.60" y1="365.69" x2="750.60" y2="365.69" stroke="#000" stroke-width="1.45"/>
<line x1="414.80" y1="340.11" x2="418.80" y2="340.11" stroke="#000" stroke-width="1.45"/>
<line x1="754.60" y1="340.11" x2="750.60" y2="340.11" stroke="#000" stroke-width="1.45"/>
<line x1="414.80" y1="314.54" x2="418.80" y2="314.54" stroke="#000" stroke-width="1.45"/>
<line x1="754.60" y1="314.54" x2="750.60" y2="314.54" stroke="#000" stroke-width="1.45"/>
<line x1="414.80" y1="288.96" x2="423.70" y2="288.96" stroke="#000" stroke-width="1.45"/>
<line x1="754.60" y1="288.96" x2="745.70" y2="288.96" stroke="#000" stroke-width="1.45"/>
<line x1="414.80" y1="263.38" x2="418.80" y2="263.38" stroke="#000" stroke-width="1.45"/>
<line x1="754.60" y1="263.38" x2="750.60" y2="263.38" stroke="#000" stroke-width="1.45"/>
<line x1="414.80" y1="237.81" x2="418.80" y2="237.81" stroke="#000" stroke-width="1.45"/>
<line x1="754.60" y1="237.81" x2="750.60" y2="237.81" stroke="#000" stroke-width="1.45"/>
<line x1="414.80" y1="212.23" x2="418.80" y2="212.23" stroke="#000" stroke-width="1.45"/>
<line x1="754.60" y1="212.23" x2="750.60" y2="212.23" stroke="#000" stroke-width="1.45"/>
<line x1="414.80" y1="186.66" x2="418.80" y2="186.66" stroke="#000" stroke-width="1.45"/>
<line x1="754.60" y1="186.66" x2="750.60" y2="186.66" stroke="#000" stroke-width="1.45"/>
<line x1="414.80" y1="161.08" x2="423.70" y2="161.08" stroke="#000" stroke-width="1.45"/>
<line x1="754.60" y1="161.08" x2="745.70" y2="161.08" stroke="#000" stroke-width="1.45"/>
<line x1="414.80" y1="135.50" x2="418.80" y2="135.50" stroke="#000" stroke-width="1.45"/>
<line x1="754.60" y1="135.50" x2="750.60" y2="135.50" stroke="#000" stroke-width="1.45"/>
<line x1="414.80" y1="109.93" x2="418.80" y2="109.93" stroke="#000" stroke-width="1.45"/>
<line x1="754.60" y1="109.93" x2="750.60" y2="109.93" stroke="#000" stroke-width="1.45"/>
<line x1="414.80" y1="84.35" x2="418.80" y2="84.35" stroke="#000" stroke-width="1.45"/>
<line x1="754.60" y1="84.35" x2="750.60" y2="84.35" stroke="#000" stroke-width="1.45"/>
<line x1="414.80" y1="58.78" x2="418.80" y2="58.78" stroke="#000" stroke-width="1.45"/>
<line x1="754.60" y1="58.78" x2="750.60" y2="58.78" stroke="#000" stroke-width="1.45"/>
<line x1="414.80" y1="33.20" x2="423.70" y2="33.20" stroke="#000" stroke-width="1.45"/>
<line x1="754.60" y1="33.20" x2="745.70" y2="33.20" stroke="#000" stroke-width="1.45"/>
<rect x="259.5" y="161.4" width="131" height="107.7" fill="#fff" stroke="#000" stroke-width="1.1"/>
<line x1="268.50" y1="177.30" x2="298.30" y2="177.30" stroke="#000000" stroke-width="1.35"/>
<line x1="268.50" y1="202.50" x2="298.30" y2="202.50" stroke="#ff0000" stroke-width="1.35"/>
<line x1="268.50" y1="227.70" x2="298.30" y2="227.70" stroke="#008b00" stroke-width="1.35"/>
<line x1="268.50" y1="252.90" x2="298.30" y2="252.90" stroke="#0000ff" stroke-width="1.35"/>
<rect x="210.6" y="312.5" width="185.5" height="27.2" fill="#fff" stroke="#000" stroke-width="1.1"/>
<polygon points="233.70,322.00 228.75,330.10 238.65,330.10" fill="#d9d9d9" stroke="#000" stroke-width="1.2"/>
<g opacity="0.996">
<text transform="translate(67.80,19.10) scale(0.95,1.045)" font-size="24.7" text-anchor="end" >1.5</text>
<text transform="translate(67.80,83.42) scale(0.95,1.045)" font-size="24.7" text-anchor="end" >1</text>
<text transform="translate(67.80,147.74) scale(1.0,1.045)" font-size="24.7" text-anchor="end" >0.5</text>
<text transform="translate(67.80,212.05) scale(1.0,1.045)" font-size="24.7" text-anchor="end" >0</text>
<text transform="translate(67.80,276.37) scale(1.0,1.045)" font-size="24.7" text-anchor="end" >-0.5</text>
<text transform="translate(67.80,302.10) scale(1.0,1.045)" font-size="24.7" text-anchor="end" >0.8</text>
<text transform="translate(67.80,373.00) scale(1.0,1.045)" font-size="24.7" text-anchor="end" >0.6</text>
<text transform="translate(67.80,443.90) scale(1.0,1.045)" font-size="24.7" text-anchor="end" >0.4</text>
<text transform="translate(67.80,514.80) scale(1.0,1.045)" font-size="24.7" text-anchor="end" >0.2</text>
<text transform="translate(67.80,585.70) scale(1.0,1.045)" font-size="24.7" text-anchor="end" >0</text>
<text transform="translate(762.00,41.50) scale(0.95,1.045)" font-size="24.7" text-anchor="start" >1.4</text>
<text transform="translate(762.00,169.38) scale(0.95,1.045)" font-size="24.7" text-anchor="start" >1.2</text>
<text transform="translate(762.00,297.26) scale(0.95,1.045)" font-size="24.7" text-anchor="start" >1</text>
<text transform="translate(762.00,425.14) scale(1.0,1.045)" font-size="24.7" text-anchor="start" >0.8</text>
<text transform="translate(762.00,553.02) scale(1.0,1.045)" font-size="24.7" text-anchor="start" >0.6</text>
<text transform="translate(75.05,601.40) scale(1.0,1.045)" font-size="24.7" text-anchor="middle" >0</text>
<text transform="translate(143.00,601.40) scale(1.0,1.045)" font-size="24.7" text-anchor="middle" >2</text>
<text transform="translate(210.95,601.40) scale(1.0,1.045)" font-size="24.7" text-anchor="middle" >4</text>
<text transform="translate(278.90,601.40) scale(1.0,1.045)" font-size="24.7" text-anchor="middle" >6</text>
<text transform="translate(346.85,601.40) scale(1.0,1.045)" font-size="24.7" text-anchor="middle" >8</text>
<text transform="translate(415.80,601.40) scale(0.95,1.045)" font-size="24.7" text-anchor="middle" >10</text>
<text transform="translate(485.15,601.40) scale(0.95,1.045)" font-size="24.7" text-anchor="middle" >1</text>
<text transform="translate(755.80,601.40) scale(0.95,1.045)" font-size="24.7" text-anchor="middle" >10</text>
<text transform="translate(245.20,628.70) scale(1.0,1.045)" font-size="29" text-anchor="middle" >T/t</text>
<text transform="translate(585.00,628.70) scale(1.0,1.045)" font-size="29" text-anchor="middle" >T/t</text>
<text transform="translate(22.6,151.4) rotate(-90)" font-size="29.8" text-anchor="middle">E(T)</text>
<text transform="translate(22.6,434.7) rotate(-90)" font-size="29.8" text-anchor="middle">C(T)</text>
<text transform="translate(822.6,293.2) rotate(-90)" font-size="30.2" text-anchor="middle">S(T)</text>
<text transform="translate(84.80,39.90) scale(1.0,1.045)" font-size="25.8" text-anchor="start" >(a)</text>
<text transform="translate(85.00,323.50) scale(1.0,1.045)" font-size="25.8" text-anchor="start" >(c)</text>
<text transform="translate(428.90,40.40) scale(1.0,1.045)" font-size="25.8" text-anchor="start" >(b)</text>
<text transform="translate(314.00,185.20) scale(1.0,1.045)" font-size="24.6" text-anchor="start" >n=1.0</text>
<text transform="translate(314.00,210.40) scale(1.0,1.045)" font-size="24.6" text-anchor="start" >n=0.95</text>
<text transform="translate(314.00,235.60) scale(1.0,1.045)" font-size="24.6" text-anchor="start" >n=0.9</text>
<text transform="translate(314.00,260.80) scale(1.0,1.045)" font-size="24.6" text-anchor="start" >n=0.85</text>
<text transform="translate(263.40,331.60) scale(1.0,1.045)" font-size="17.0" text-anchor="start" >Extr. NLCE n=1.0</text>
</g>
</svg>
</body></html>
